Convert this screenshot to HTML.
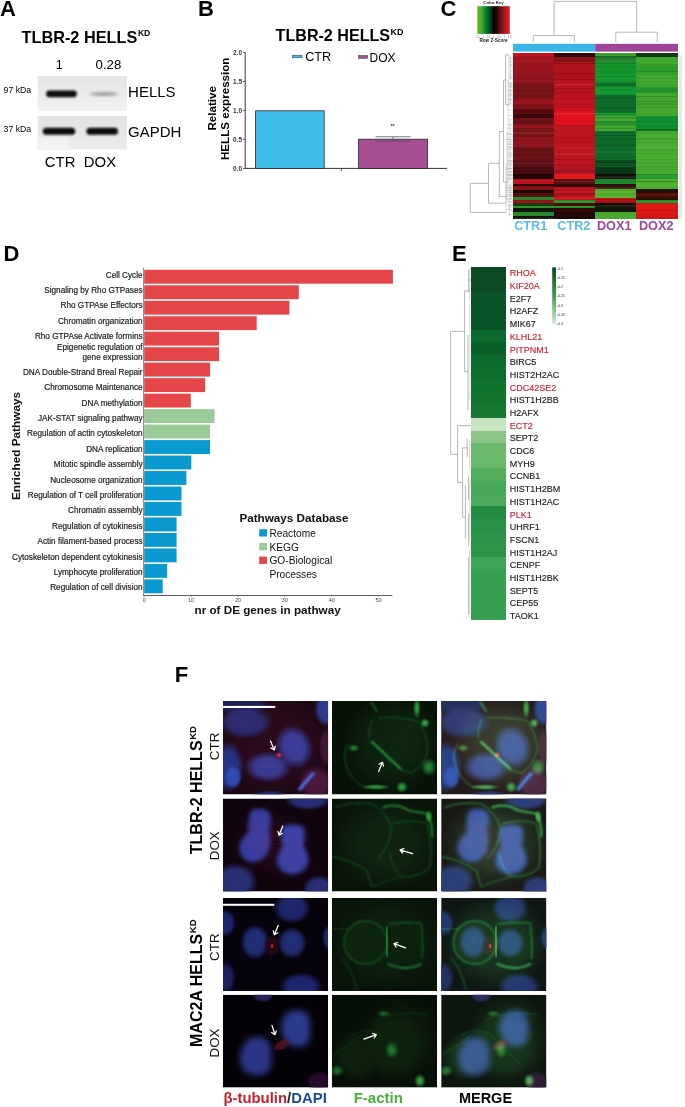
<!DOCTYPE html>
<html><head><meta charset="utf-8"><style>
html,body{margin:0;padding:0;background:#fff;}
body{width:685px;height:1107px;overflow:hidden;}
svg text{font-family:"Liberation Sans", sans-serif;}
</style></head><body>
<svg width="685" height="1107" viewBox="0 0 685 1107" style="display:block">
<defs><linearGradient id="blot1" x1="0" y1="0" x2="0" y2="1"><stop offset="0" stop-color="#e4e4e4"/><stop offset="0.6" stop-color="#ececec"/><stop offset="1" stop-color="#f2f2f2"/></linearGradient>
<linearGradient id="blot2" x1="0" y1="0" x2="0" y2="1"><stop offset="0" stop-color="#e2e2e2"/><stop offset="1" stop-color="#ececec"/></linearGradient>
<filter id="bl1" x="-20%" y="-50%" width="140%" height="200%"><feGaussianBlur stdDeviation="0.9"/></filter>
<filter id="bl2" x="-20%" y="-50%" width="140%" height="200%"><feGaussianBlur stdDeviation="1.4"/></filter><linearGradient id="ckey" x1="0" y1="0" x2="1" y2="0">
<stop offset="0" stop-color="#6ab32a"/><stop offset="0.14" stop-color="#4aa82c"/><stop offset="0.2" stop-color="#0d9a32"/>
<stop offset="0.3" stop-color="#0b6a28"/><stop offset="0.42" stop-color="#083a18"/><stop offset="0.5" stop-color="#000"/>
<stop offset="0.6" stop-color="#2a0606"/><stop offset="0.72" stop-color="#6a1216"/><stop offset="0.85" stop-color="#b0141e"/>
<stop offset="1" stop-color="#e82222"/></linearGradient><linearGradient id="escale" x1="0" y1="0" x2="0" y2="1"><stop offset="0" stop-color="#0a4a20"/><stop offset="0.5" stop-color="#3a9a4a"/><stop offset="1" stop-color="#d4ecd0"/></linearGradient><filter id="b05" x="-50%" y="-50%" width="200%" height="200%"><feGaussianBlur stdDeviation="0.5"/></filter>
<filter id="b1" x="-50%" y="-50%" width="200%" height="200%"><feGaussianBlur stdDeviation="1"/></filter>
<filter id="b2" x="-50%" y="-50%" width="200%" height="200%"><feGaussianBlur stdDeviation="2"/></filter>
<filter id="b3" x="-50%" y="-50%" width="200%" height="200%"><feGaussianBlur stdDeviation="3"/></filter>
<pattern id="rdots" width="4" height="4" patternUnits="userSpaceOnUse"><circle cx="1" cy="1" r="0.6" fill="#d03050"/><circle cx="3" cy="2.6" r="0.5" fill="#c02848"/></pattern><radialGradient id="rg1"><stop offset="0" stop-color="#2a0a1c" stop-opacity="1"/><stop offset="0.6" stop-color="#2a0a1c" stop-opacity="0.920"/><stop offset="1" stop-color="#2a0a1c" stop-opacity="0"/></radialGradient><radialGradient id="rg2"><stop offset="0" stop-color="#1e2058" stop-opacity="1.0"/><stop offset="0.62" stop-color="#1e2058" stop-opacity="0.920"/><stop offset="1" stop-color="#1e2058" stop-opacity="0"/></radialGradient><radialGradient id="rg3"><stop offset="0" stop-color="#2a2e74" stop-opacity="1.0"/><stop offset="0.62" stop-color="#2a2e74" stop-opacity="0.920"/><stop offset="1" stop-color="#2a2e74" stop-opacity="0"/></radialGradient><radialGradient id="rg4"><stop offset="0" stop-color="#2e3c98" stop-opacity="1.0"/><stop offset="0.62" stop-color="#2e3c98" stop-opacity="0.920"/><stop offset="1" stop-color="#2e3c98" stop-opacity="0"/></radialGradient><radialGradient id="rg5"><stop offset="0" stop-color="#3440a0" stop-opacity="1"/><stop offset="0.55" stop-color="#3440a0" stop-opacity="0.920"/><stop offset="1" stop-color="#3440a0" stop-opacity="0"/></radialGradient><radialGradient id="rg6"><stop offset="0" stop-color="#343e9a" stop-opacity="1"/><stop offset="0.55" stop-color="#343e9a" stop-opacity="0.920"/><stop offset="1" stop-color="#343e9a" stop-opacity="0"/></radialGradient><radialGradient id="rg7"><stop offset="0" stop-color="#26348a" stop-opacity="1.0"/><stop offset="0.62" stop-color="#26348a" stop-opacity="0.920"/><stop offset="1" stop-color="#26348a" stop-opacity="0"/></radialGradient><radialGradient id="rg8"><stop offset="0" stop-color="#2e4cb0" stop-opacity="1.0"/><stop offset="0.62" stop-color="#2e4cb0" stop-opacity="0.920"/><stop offset="1" stop-color="#2e4cb0" stop-opacity="0"/></radialGradient><radialGradient id="rg9"><stop offset="0" stop-color="#28328a" stop-opacity="1.0"/><stop offset="0.62" stop-color="#28328a" stop-opacity="0.920"/><stop offset="1" stop-color="#28328a" stop-opacity="0"/></radialGradient><radialGradient id="rg10"><stop offset="0" stop-color="#4a1a40" stop-opacity="1.0"/><stop offset="0.62" stop-color="#4a1a40" stop-opacity="0.920"/><stop offset="1" stop-color="#4a1a40" stop-opacity="0"/></radialGradient><radialGradient id="rg11"><stop offset="0" stop-color="#421636" stop-opacity="1.0"/><stop offset="0.62" stop-color="#421636" stop-opacity="0.920"/><stop offset="1" stop-color="#421636" stop-opacity="0"/></radialGradient><radialGradient id="rg12"><stop offset="0" stop-color="#e02848" stop-opacity="1"/><stop offset="0.3" stop-color="#e02848" stop-opacity="0.920"/><stop offset="1" stop-color="#e02848" stop-opacity="0"/></radialGradient><radialGradient id="rg13"><stop offset="0" stop-color="#0c220e" stop-opacity="1"/><stop offset="0.5" stop-color="#0c220e" stop-opacity="0.920"/><stop offset="1" stop-color="#0c220e" stop-opacity="0"/></radialGradient><radialGradient id="rg14"><stop offset="0" stop-color="#0f2812" stop-opacity="0.8"/><stop offset="0.3" stop-color="#0f2812" stop-opacity="0.736"/><stop offset="1" stop-color="#0f2812" stop-opacity="0"/></radialGradient><radialGradient id="rg15"><stop offset="0" stop-color="#2a9a38" stop-opacity="1.0"/><stop offset="0.3" stop-color="#2a9a38" stop-opacity="0.920"/><stop offset="1" stop-color="#2a9a38" stop-opacity="0"/></radialGradient><radialGradient id="rg16"><stop offset="0" stop-color="#34a444" stop-opacity="1.0"/><stop offset="0.3" stop-color="#34a444" stop-opacity="0.920"/><stop offset="1" stop-color="#34a444" stop-opacity="0"/></radialGradient><radialGradient id="rg17"><stop offset="0" stop-color="#2a9a38" stop-opacity="1.0"/><stop offset="0.3" stop-color="#2a9a38" stop-opacity="0.920"/><stop offset="1" stop-color="#2a9a38" stop-opacity="0"/></radialGradient><radialGradient id="rg18"><stop offset="0" stop-color="#20802e" stop-opacity="1.0"/><stop offset="0.3" stop-color="#20802e" stop-opacity="0.920"/><stop offset="1" stop-color="#20802e" stop-opacity="0"/></radialGradient><radialGradient id="rg19"><stop offset="0" stop-color="#1e7a2c" stop-opacity="1.0"/><stop offset="0.3" stop-color="#1e7a2c" stop-opacity="0.920"/><stop offset="1" stop-color="#1e7a2c" stop-opacity="0"/></radialGradient><radialGradient id="rg20"><stop offset="0" stop-color="#28903a" stop-opacity="1.0"/><stop offset="0.3" stop-color="#28903a" stop-opacity="0.920"/><stop offset="1" stop-color="#28903a" stop-opacity="0"/></radialGradient><radialGradient id="rg21"><stop offset="0" stop-color="#1c0616" stop-opacity="1"/><stop offset="0.6" stop-color="#1c0616" stop-opacity="0.920"/><stop offset="1" stop-color="#1c0616" stop-opacity="0"/></radialGradient><radialGradient id="rg22"><stop offset="0" stop-color="#283078" stop-opacity="1.0"/><stop offset="0.62" stop-color="#283078" stop-opacity="0.920"/><stop offset="1" stop-color="#283078" stop-opacity="0"/></radialGradient><radialGradient id="rg23"><stop offset="0" stop-color="#283078" stop-opacity="1.0"/><stop offset="0.62" stop-color="#283078" stop-opacity="0.920"/><stop offset="1" stop-color="#283078" stop-opacity="0"/></radialGradient><radialGradient id="rg24"><stop offset="0" stop-color="#283078" stop-opacity="1.0"/><stop offset="0.62" stop-color="#283078" stop-opacity="0.920"/><stop offset="1" stop-color="#283078" stop-opacity="0"/></radialGradient><radialGradient id="rg25"><stop offset="0" stop-color="#0e2410" stop-opacity="1"/><stop offset="0.5" stop-color="#0e2410" stop-opacity="0.920"/><stop offset="1" stop-color="#0e2410" stop-opacity="0"/></radialGradient><radialGradient id="rg26"><stop offset="0" stop-color="#2a9a38" stop-opacity="1.0"/><stop offset="0.3" stop-color="#2a9a38" stop-opacity="0.920"/><stop offset="1" stop-color="#2a9a38" stop-opacity="0"/></radialGradient><radialGradient id="rg27"><stop offset="0" stop-color="#1e2870" stop-opacity="1.0"/><stop offset="0.62" stop-color="#1e2870" stop-opacity="0.920"/><stop offset="1" stop-color="#1e2870" stop-opacity="0"/></radialGradient><radialGradient id="rg28"><stop offset="0" stop-color="#22307a" stop-opacity="1.0"/><stop offset="0.62" stop-color="#22307a" stop-opacity="0.920"/><stop offset="1" stop-color="#22307a" stop-opacity="0"/></radialGradient><radialGradient id="rg29"><stop offset="0" stop-color="#22307a" stop-opacity="1.0"/><stop offset="0.62" stop-color="#22307a" stop-opacity="0.920"/><stop offset="1" stop-color="#22307a" stop-opacity="0"/></radialGradient><radialGradient id="rg30"><stop offset="0" stop-color="#1e2870" stop-opacity="1.0"/><stop offset="0.62" stop-color="#1e2870" stop-opacity="0.920"/><stop offset="1" stop-color="#1e2870" stop-opacity="0"/></radialGradient><radialGradient id="rg31"><stop offset="0" stop-color="#1e2870" stop-opacity="1.0"/><stop offset="0.62" stop-color="#1e2870" stop-opacity="0.920"/><stop offset="1" stop-color="#1e2870" stop-opacity="0"/></radialGradient><radialGradient id="rg32"><stop offset="0" stop-color="#1e2060" stop-opacity="1.0"/><stop offset="0.62" stop-color="#1e2060" stop-opacity="0.920"/><stop offset="1" stop-color="#1e2060" stop-opacity="0"/></radialGradient><radialGradient id="rg33"><stop offset="0" stop-color="#1e2870" stop-opacity="1.0"/><stop offset="0.62" stop-color="#1e2870" stop-opacity="0.920"/><stop offset="1" stop-color="#1e2870" stop-opacity="0"/></radialGradient><radialGradient id="rg34"><stop offset="0" stop-color="#220818" stop-opacity="1.0"/><stop offset="0.62" stop-color="#220818" stop-opacity="0.920"/><stop offset="1" stop-color="#220818" stop-opacity="0"/></radialGradient><radialGradient id="rg35"><stop offset="0" stop-color="#e02030" stop-opacity="1"/><stop offset="0.3" stop-color="#e02030" stop-opacity="0.920"/><stop offset="1" stop-color="#e02030" stop-opacity="0"/></radialGradient><radialGradient id="rg36"><stop offset="0" stop-color="#0c200e" stop-opacity="1"/><stop offset="0.5" stop-color="#0c200e" stop-opacity="0.920"/><stop offset="1" stop-color="#0c200e" stop-opacity="0"/></radialGradient><radialGradient id="rg37"><stop offset="0" stop-color="#0d250d" stop-opacity="1"/><stop offset="0.8" stop-color="#0d250d" stop-opacity="0.920"/><stop offset="1" stop-color="#0d250d" stop-opacity="0"/></radialGradient><radialGradient id="rg38"><stop offset="0" stop-color="#0c220c" stop-opacity="1"/><stop offset="0.75" stop-color="#0c220c" stop-opacity="0.920"/><stop offset="1" stop-color="#0c220c" stop-opacity="0"/></radialGradient><radialGradient id="rg39"><stop offset="0" stop-color="#2a2060" stop-opacity="1.0"/><stop offset="0.62" stop-color="#2a2060" stop-opacity="0.920"/><stop offset="1" stop-color="#2a2060" stop-opacity="0"/></radialGradient><radialGradient id="rg40"><stop offset="0" stop-color="#5a1428" stop-opacity="0.75"/><stop offset="0.62" stop-color="#5a1428" stop-opacity="0.690"/><stop offset="1" stop-color="#5a1428" stop-opacity="0"/></radialGradient><radialGradient id="rg41"><stop offset="0" stop-color="#2a0a30" stop-opacity="1.0"/><stop offset="0.62" stop-color="#2a0a30" stop-opacity="0.920"/><stop offset="1" stop-color="#2a0a30" stop-opacity="0"/></radialGradient><radialGradient id="rg42"><stop offset="0" stop-color="#0b1a0b" stop-opacity="1"/><stop offset="0.5" stop-color="#0b1a0b" stop-opacity="0.920"/><stop offset="1" stop-color="#0b1a0b" stop-opacity="0"/></radialGradient><radialGradient id="rg43"><stop offset="0" stop-color="#0d220d" stop-opacity="1"/><stop offset="0.6" stop-color="#0d220d" stop-opacity="0.920"/><stop offset="1" stop-color="#0d220d" stop-opacity="0"/></radialGradient><radialGradient id="rg44"><stop offset="0" stop-color="#0d200d" stop-opacity="1"/><stop offset="0.6" stop-color="#0d200d" stop-opacity="0.920"/><stop offset="1" stop-color="#0d200d" stop-opacity="0"/></radialGradient><radialGradient id="rg45"><stop offset="0" stop-color="#1a5e24" stop-opacity="1.0"/><stop offset="0.3" stop-color="#1a5e24" stop-opacity="0.920"/><stop offset="1" stop-color="#1a5e24" stop-opacity="0"/></radialGradient><radialGradient id="rg46"><stop offset="0" stop-color="#227a30" stop-opacity="1.0"/><stop offset="0.3" stop-color="#227a30" stop-opacity="0.920"/><stop offset="1" stop-color="#227a30" stop-opacity="0"/></radialGradient><radialGradient id="rg47"><stop offset="0" stop-color="#36a03a" stop-opacity="1.0"/><stop offset="0.3" stop-color="#36a03a" stop-opacity="0.920"/><stop offset="1" stop-color="#36a03a" stop-opacity="0"/></radialGradient><radialGradient id="rg48"><stop offset="0" stop-color="#1a6a28" stop-opacity="1.0"/><stop offset="0.3" stop-color="#1a6a28" stop-opacity="0.920"/><stop offset="1" stop-color="#1a6a28" stop-opacity="0"/></radialGradient></defs>
<rect width="685" height="1107" fill="#fff"/>
<text x="0.0" y="15.8" font-size="22" font-weight="bold" fill="#000" text-anchor="start">A</text>
<text x="197.9" y="15.7" font-size="22" font-weight="bold" fill="#000" text-anchor="start">B</text>
<text x="440.6" y="15.6" font-size="22" font-weight="bold" fill="#000" text-anchor="start">C</text>
<text x="3.4" y="260.8" font-size="22" font-weight="bold" fill="#000" text-anchor="start">D</text>
<text x="452.0" y="260.8" font-size="22" font-weight="bold" fill="#000" text-anchor="start">E</text>
<text x="174.7" y="682.2" font-size="22" font-weight="bold" fill="#000" text-anchor="start">F</text>
<text x="21.5" y="42.6" font-size="16.3" font-weight="bold">TLBR-2 HELLS<tspan font-size="8.6" dy="-6.2" dx="0.6">KD</tspan></text>
<text x="55.8" y="68.6" font-size="12.5" fill="#000" text-anchor="start">1</text>
<text x="95.6" y="68.6" font-size="13.2" fill="#000" text-anchor="start">0.28</text>
<rect x="37.70" y="76.20" width="89.30" height="34.80" fill="url(#blot1)"/>
<rect x="37.70" y="115.90" width="89.30" height="33.50" fill="url(#blot2)"/>
<rect x="46.2" y="90.6" width="30.6" height="6.6" rx="3.3" fill="#0a0a0a" filter="url(#bl1)"/>
<ellipse cx="103.8" cy="93.9" rx="14" ry="1.8" fill="#9a9a9a" filter="url(#bl2)"/>
<rect x="42.8" y="127.8" width="32.4" height="7.0" rx="3.5" fill="#0a0a0a" filter="url(#bl1)"/>
<rect x="86.4" y="127.8" width="31.6" height="7.0" rx="3.5" fill="#0a0a0a" filter="url(#bl1)"/>
<path d="M38 138 H68 L72 149.4 H38 Z" fill="#f3f3f3" filter="url(#bl1)"/>
<text x="3.6" y="93.4" font-size="8.7" fill="#000" text-anchor="start">97 kDa</text>
<text x="3.6" y="132.4" font-size="8.7" fill="#000" text-anchor="start">37 kDa</text>
<text x="128.1" y="97.3" font-size="15" fill="#000" text-anchor="start">HELLS</text>
<text x="128.1" y="137.0" font-size="15" fill="#000" text-anchor="start">GAPDH</text>
<text x="44.8" y="167.3" font-size="14.9" fill="#000" text-anchor="start">CTR</text>
<text x="83.8" y="167.3" font-size="14.9" fill="#000" text-anchor="start">DOX</text>
<text x="275.6" y="40.8" font-size="16.1" font-weight="bold">TLBR-2 HELLS<tspan font-size="9" dy="-5.6" dx="0.4">KD</tspan></text>
<rect x="292.40" y="55.20" width="9.60" height="2.60" fill="#3dbde8" stroke="#333" stroke-width="0.5"/>
<text x="305.2" y="61.3" font-size="12.6" fill="#000" text-anchor="start">CTR</text>
<rect x="358.60" y="55.50" width="9.00" height="2.80" fill="#a54e93" stroke="#333" stroke-width="0.5"/>
<text x="369.6" y="61.5" font-size="12" fill="#000" text-anchor="start">DOX</text>
<line x1="245.2" y1="52.4" x2="245.2" y2="168.8" stroke="#222" stroke-width="0.9"/>
<line x1="245.2" y1="168.4" x2="447" y2="168.4" stroke="#222" stroke-width="0.9"/>
<line x1="243.0" y1="168.4" x2="245.2" y2="168.4" stroke="#222" stroke-width="0.7"/>
<text x="242.0" y="170.6" font-size="6.4" font-weight="bold" fill="#333" text-anchor="end">0.0</text>
<line x1="243.0" y1="139.4" x2="245.2" y2="139.4" stroke="#222" stroke-width="0.7"/>
<text x="242.0" y="141.6" font-size="6.4" font-weight="bold" fill="#333" text-anchor="end">0.5</text>
<line x1="243.0" y1="110.4" x2="245.2" y2="110.4" stroke="#222" stroke-width="0.7"/>
<text x="242.0" y="112.60000000000001" font-size="6.4" font-weight="bold" fill="#333" text-anchor="end">1.0</text>
<line x1="243.0" y1="81.4" x2="245.2" y2="81.4" stroke="#222" stroke-width="0.7"/>
<text x="242.0" y="83.60000000000001" font-size="6.4" font-weight="bold" fill="#333" text-anchor="end">1.5</text>
<line x1="243.0" y1="52.400000000000006" x2="245.2" y2="52.400000000000006" stroke="#222" stroke-width="0.7"/>
<text x="242.0" y="54.60000000000001" font-size="6.4" font-weight="bold" fill="#333" text-anchor="end">2.0</text>
<line x1="341.4" y1="168.4" x2="341.4" y2="170.8" stroke="#222" stroke-width="0.8"/>
<rect x="255.60" y="110.80" width="68.60" height="57.60" fill="#3dbde8" stroke="#2a2a2a" stroke-width="0.8"/>
<rect x="358.60" y="139.20" width="69.00" height="29.20" fill="#a54e93" stroke="#2a2a2a" stroke-width="0.8"/>
<line x1="375.6" y1="136.8" x2="410.6" y2="136.8" stroke="#555" stroke-width="0.8"/>
<line x1="375.6" y1="141.2" x2="410.6" y2="141.2" stroke="#555" stroke-width="0.8"/>
<line x1="393" y1="136.8" x2="393" y2="141.2" stroke="#555" stroke-width="0.8"/>
<text x="392.6" y="128.4" font-size="5.5" font-weight="bold" fill="#333" text-anchor="middle">**</text>
<text x="216.0" y="108.3" font-size="11.6" font-weight="bold" fill="#000" text-anchor="middle" transform="rotate(-90 216.0 108.3)">Relative</text>
<text x="229.4" y="108.8" font-size="11.6" font-weight="bold" fill="#000" text-anchor="middle" transform="rotate(-90 229.4 108.8)">HELLS expression</text>
<rect x="477.30" y="6.20" width="32.50" height="27.70" fill="url(#ckey)"/>
<text x="493.5" y="4.2" font-size="4.3" font-weight="bold" fill="#222" text-anchor="middle">Color Key</text>
<text x="493.5" y="42.4" font-size="4.6" font-weight="bold" fill="#222" text-anchor="middle">Row Z-Score</text>
<line x1="477.6" y1="33.9" x2="477.6" y2="34.8" stroke="#888" stroke-width="0.3"/>
<text x="477.6" y="38.3" font-size="2.6" fill="#777" text-anchor="middle">-1.5</text>
<line x1="482.93333333333334" y1="33.9" x2="482.93333333333334" y2="34.8" stroke="#888" stroke-width="0.3"/>
<text x="482.93333333333334" y="38.3" font-size="2.6" fill="#777" text-anchor="middle">-1</text>
<line x1="488.2666666666667" y1="33.9" x2="488.2666666666667" y2="34.8" stroke="#888" stroke-width="0.3"/>
<text x="488.2666666666667" y="38.3" font-size="2.6" fill="#777" text-anchor="middle">-0.5</text>
<line x1="493.6" y1="33.9" x2="493.6" y2="34.8" stroke="#888" stroke-width="0.3"/>
<text x="493.6" y="38.3" font-size="2.6" fill="#777" text-anchor="middle">0</text>
<line x1="498.93333333333334" y1="33.9" x2="498.93333333333334" y2="34.8" stroke="#888" stroke-width="0.3"/>
<text x="498.93333333333334" y="38.3" font-size="2.6" fill="#777" text-anchor="middle">0.5</text>
<line x1="504.2666666666667" y1="33.9" x2="504.2666666666667" y2="34.8" stroke="#888" stroke-width="0.3"/>
<text x="504.2666666666667" y="38.3" font-size="2.6" fill="#777" text-anchor="middle">1</text>
<line x1="509.6" y1="33.9" x2="509.6" y2="34.8" stroke="#888" stroke-width="0.3"/>
<text x="509.6" y="38.3" font-size="2.6" fill="#777" text-anchor="middle">1.5</text>
<path d="M554.1 35.5 V1.4 H636.6 V32.2 M533.3 42 V35.5 H574.4 V42 M615.8 42 V32.2 H657.3 V42" stroke="#9a9a9a" stroke-width="0.7" fill="none"/>
<rect x="513.00" y="43.80" width="82.20" height="7.80" fill="#3bb5e6"/>
<rect x="595.20" y="43.80" width="82.80" height="7.80" fill="#a0439a"/>
<rect x="512.80" y="53.00" width="41.70" height="3.30" fill="#c0141e" shape-rendering="crispEdges"/>
<rect x="512.80" y="56.00" width="41.70" height="6.30" fill="#a41520" shape-rendering="crispEdges"/>
<rect x="512.80" y="62.00" width="41.70" height="12.30" fill="#9a1520" shape-rendering="crispEdges"/>
<rect x="512.80" y="74.00" width="41.70" height="9.30" fill="#921420" shape-rendering="crispEdges"/>
<rect x="512.80" y="83.00" width="41.70" height="4.30" fill="#7a1418" shape-rendering="crispEdges"/>
<rect x="512.80" y="87.00" width="41.70" height="12.30" fill="#761418" shape-rendering="crispEdges"/>
<rect x="512.80" y="99.00" width="41.70" height="6.30" fill="#9a1520" shape-rendering="crispEdges"/>
<rect x="512.80" y="105.00" width="41.70" height="4.30" fill="#801418" shape-rendering="crispEdges"/>
<rect x="512.80" y="109.00" width="41.70" height="5.30" fill="#5a0e12" shape-rendering="crispEdges"/>
<rect x="512.80" y="114.00" width="41.70" height="4.30" fill="#3a0a0c" shape-rendering="crispEdges"/>
<rect x="512.80" y="118.00" width="41.70" height="7.30" fill="#6a1216" shape-rendering="crispEdges"/>
<rect x="512.80" y="125.00" width="41.70" height="3.30" fill="#9a1420" shape-rendering="crispEdges"/>
<rect x="512.80" y="128.00" width="41.70" height="9.30" fill="#7a1418" shape-rendering="crispEdges"/>
<rect x="512.80" y="137.00" width="41.70" height="10.30" fill="#901520" shape-rendering="crispEdges"/>
<rect x="512.80" y="147.00" width="41.70" height="15.30" fill="#6a1216" shape-rendering="crispEdges"/>
<rect x="512.80" y="162.00" width="41.70" height="5.30" fill="#5a1014" shape-rendering="crispEdges"/>
<rect x="512.80" y="167.00" width="41.70" height="7.30" fill="#4a0c10" shape-rendering="crispEdges"/>
<rect x="512.80" y="174.00" width="41.70" height="5.30" fill="#200808" shape-rendering="crispEdges"/>
<rect x="512.80" y="179.00" width="41.70" height="5.30" fill="#c01420" shape-rendering="crispEdges"/>
<rect x="512.80" y="184.00" width="41.70" height="2.30" fill="#300808" shape-rendering="crispEdges"/>
<rect x="512.80" y="186.00" width="41.70" height="4.30" fill="#8a1418" shape-rendering="crispEdges"/>
<rect x="512.80" y="190.00" width="41.70" height="3.30" fill="#200808" shape-rendering="crispEdges"/>
<rect x="512.80" y="193.00" width="41.70" height="4.30" fill="#5a1010" shape-rendering="crispEdges"/>
<rect x="512.80" y="197.00" width="41.70" height="3.30" fill="#2a8a30" shape-rendering="crispEdges"/>
<rect x="512.80" y="200.00" width="41.70" height="3.30" fill="#a01418" shape-rendering="crispEdges"/>
<rect x="512.80" y="203.00" width="41.70" height="3.30" fill="#1a3a18" shape-rendering="crispEdges"/>
<rect x="512.80" y="206.00" width="41.70" height="2.30" fill="#30a030" shape-rendering="crispEdges"/>
<rect x="512.80" y="208.00" width="41.70" height="4.30" fill="#101808" shape-rendering="crispEdges"/>
<rect x="512.80" y="212.00" width="41.70" height="4.30" fill="#2a8a30" shape-rendering="crispEdges"/>
<rect x="512.80" y="216.00" width="41.70" height="3.30" fill="#101008" shape-rendering="crispEdges"/>
<rect x="554.20" y="53.00" width="41.30" height="4.30" fill="#2e0808" shape-rendering="crispEdges"/>
<rect x="554.20" y="57.00" width="41.30" height="5.30" fill="#8a1418" shape-rendering="crispEdges"/>
<rect x="554.20" y="62.00" width="41.30" height="12.30" fill="#b0141e" shape-rendering="crispEdges"/>
<rect x="554.20" y="74.00" width="41.30" height="20.30" fill="#b8121e" shape-rendering="crispEdges"/>
<rect x="554.20" y="94.00" width="41.30" height="15.30" fill="#c0121e" shape-rendering="crispEdges"/>
<rect x="554.20" y="109.00" width="41.30" height="16.30" fill="#e0101e" shape-rendering="crispEdges"/>
<rect x="554.20" y="125.00" width="41.30" height="42.30" fill="#be141e" shape-rendering="crispEdges"/>
<rect x="554.20" y="167.00" width="41.30" height="7.30" fill="#b01420" shape-rendering="crispEdges"/>
<rect x="554.20" y="174.00" width="41.30" height="5.30" fill="#e81820" shape-rendering="crispEdges"/>
<rect x="554.20" y="179.00" width="41.30" height="5.30" fill="#5a1010" shape-rendering="crispEdges"/>
<rect x="554.20" y="184.00" width="41.30" height="3.30" fill="#300808" shape-rendering="crispEdges"/>
<rect x="554.20" y="187.00" width="41.30" height="6.30" fill="#c0141e" shape-rendering="crispEdges"/>
<rect x="554.20" y="193.00" width="41.30" height="4.30" fill="#b01420" shape-rendering="crispEdges"/>
<rect x="554.20" y="197.00" width="41.30" height="3.30" fill="#e01820" shape-rendering="crispEdges"/>
<rect x="554.20" y="200.00" width="41.30" height="3.30" fill="#2a9a30" shape-rendering="crispEdges"/>
<rect x="554.20" y="203.00" width="41.30" height="3.30" fill="#500808" shape-rendering="crispEdges"/>
<rect x="554.20" y="206.00" width="41.30" height="2.30" fill="#30a030" shape-rendering="crispEdges"/>
<rect x="554.20" y="208.00" width="41.30" height="4.30" fill="#300808" shape-rendering="crispEdges"/>
<rect x="554.20" y="212.00" width="41.30" height="7.30" fill="#200808" shape-rendering="crispEdges"/>
<rect x="595.20" y="53.00" width="41.50" height="3.30" fill="#40a030" shape-rendering="crispEdges"/>
<rect x="595.20" y="56.00" width="41.50" height="2.30" fill="#1a6a2a" shape-rendering="crispEdges"/>
<rect x="595.20" y="58.00" width="41.50" height="4.30" fill="#2a8a30" shape-rendering="crispEdges"/>
<rect x="595.20" y="62.00" width="41.50" height="12.30" fill="#13952c" shape-rendering="crispEdges"/>
<rect x="595.20" y="74.00" width="41.50" height="9.30" fill="#149a30" shape-rendering="crispEdges"/>
<rect x="595.20" y="83.00" width="41.50" height="3.30" fill="#0e6a28" shape-rendering="crispEdges"/>
<rect x="595.20" y="86.00" width="41.50" height="9.30" fill="#149a30" shape-rendering="crispEdges"/>
<rect x="595.20" y="95.00" width="41.50" height="18.30" fill="#0e6a2a" shape-rendering="crispEdges"/>
<rect x="595.20" y="113.00" width="41.50" height="3.30" fill="#18a030" shape-rendering="crispEdges"/>
<rect x="595.20" y="116.00" width="41.50" height="5.30" fill="#44a834" shape-rendering="crispEdges"/>
<rect x="595.20" y="121.00" width="41.50" height="4.30" fill="#2a9530" shape-rendering="crispEdges"/>
<rect x="595.20" y="125.00" width="41.50" height="6.30" fill="#40a830" shape-rendering="crispEdges"/>
<rect x="595.20" y="131.00" width="41.50" height="29.30" fill="#0e6a2a" shape-rendering="crispEdges"/>
<rect x="595.20" y="160.00" width="41.50" height="3.30" fill="#0a4a20" shape-rendering="crispEdges"/>
<rect x="595.20" y="163.00" width="41.50" height="4.30" fill="#0a5a24" shape-rendering="crispEdges"/>
<rect x="595.20" y="167.00" width="41.50" height="7.30" fill="#0a3a18" shape-rendering="crispEdges"/>
<rect x="595.20" y="174.00" width="41.50" height="5.30" fill="#101008" shape-rendering="crispEdges"/>
<rect x="595.20" y="179.00" width="41.50" height="5.30" fill="#1a8a30" shape-rendering="crispEdges"/>
<rect x="595.20" y="184.00" width="41.50" height="5.30" fill="#301008" shape-rendering="crispEdges"/>
<rect x="595.20" y="189.00" width="41.50" height="9.30" fill="#5ab030" shape-rendering="crispEdges"/>
<rect x="595.20" y="198.00" width="41.50" height="3.30" fill="#c01418" shape-rendering="crispEdges"/>
<rect x="595.20" y="201.00" width="41.50" height="2.30" fill="#a01418" shape-rendering="crispEdges"/>
<rect x="595.20" y="203.00" width="41.50" height="4.30" fill="#101008" shape-rendering="crispEdges"/>
<rect x="595.20" y="207.00" width="41.50" height="5.30" fill="#101808" shape-rendering="crispEdges"/>
<rect x="595.20" y="212.00" width="41.50" height="7.30" fill="#4aaa30" shape-rendering="crispEdges"/>
<rect x="636.40" y="53.00" width="41.70" height="4.30" fill="#103a18" shape-rendering="crispEdges"/>
<rect x="636.40" y="57.00" width="41.70" height="9.30" fill="#40a830" shape-rendering="crispEdges"/>
<rect x="636.40" y="66.00" width="41.70" height="8.30" fill="#2da02e" shape-rendering="crispEdges"/>
<rect x="636.40" y="74.00" width="41.70" height="13.30" fill="#42a830" shape-rendering="crispEdges"/>
<rect x="636.40" y="87.00" width="41.70" height="6.30" fill="#22952e" shape-rendering="crispEdges"/>
<rect x="636.40" y="93.00" width="41.70" height="23.30" fill="#44a830" shape-rendering="crispEdges"/>
<rect x="636.40" y="116.00" width="41.70" height="13.30" fill="#0f9030" shape-rendering="crispEdges"/>
<rect x="636.40" y="129.00" width="41.70" height="2.30" fill="#0f6a28" shape-rendering="crispEdges"/>
<rect x="636.40" y="131.00" width="41.70" height="43.30" fill="#48ac30" shape-rendering="crispEdges"/>
<rect x="636.40" y="174.00" width="41.70" height="5.30" fill="#2a9a30" shape-rendering="crispEdges"/>
<rect x="636.40" y="179.00" width="41.70" height="10.30" fill="#50b030" shape-rendering="crispEdges"/>
<rect x="636.40" y="189.00" width="41.70" height="4.30" fill="#201008" shape-rendering="crispEdges"/>
<rect x="636.40" y="193.00" width="41.70" height="3.30" fill="#6a1010" shape-rendering="crispEdges"/>
<rect x="636.40" y="196.00" width="41.70" height="4.30" fill="#301008" shape-rendering="crispEdges"/>
<rect x="636.40" y="200.00" width="41.70" height="3.30" fill="#2a9a30" shape-rendering="crispEdges"/>
<rect x="636.40" y="203.00" width="41.70" height="16.30" fill="#e01818" shape-rendering="crispEdges"/>
<rect x="512.8" y="57.5" width="41.4" height="0.8" fill="#000" opacity="0.12"/>
<rect x="512.8" y="63.7" width="41.4" height="0.6" fill="#000" opacity="0.12"/>
<rect x="512.8" y="68.4" width="41.4" height="0.6" fill="#000" opacity="0.07"/>
<rect x="512.8" y="72.0" width="41.4" height="1.2" fill="#000" opacity="0.07"/>
<rect x="512.8" y="78.8" width="41.4" height="0.6" fill="#000" opacity="0.15"/>
<rect x="512.8" y="85.7" width="41.4" height="0.6" fill="#000" opacity="0.15"/>
<rect x="512.8" y="90.1" width="41.4" height="0.6" fill="#000" opacity="0.15"/>
<rect x="512.8" y="95.6" width="41.4" height="0.6" fill="#000" opacity="0.15"/>
<rect x="512.8" y="99.8" width="41.4" height="0.6" fill="#000" opacity="0.15"/>
<rect x="512.8" y="104.5" width="41.4" height="1.2" fill="#000" opacity="0.18"/>
<rect x="512.8" y="111.2" width="41.4" height="1.0" fill="#000" opacity="0.11"/>
<rect x="512.8" y="116.8" width="41.4" height="0.8" fill="#000" opacity="0.07"/>
<rect x="512.8" y="121.6" width="41.4" height="1.0" fill="#000" opacity="0.18"/>
<rect x="512.8" y="128.5" width="41.4" height="0.6" fill="#000" opacity="0.14"/>
<rect x="512.8" y="132.5" width="41.4" height="1.2" fill="#fff" opacity="0.13"/>
<rect x="512.8" y="135.4" width="41.4" height="1.0" fill="#000" opacity="0.11"/>
<rect x="512.8" y="140.1" width="41.4" height="1.2" fill="#000" opacity="0.07"/>
<rect x="512.8" y="143.8" width="41.4" height="0.6" fill="#000" opacity="0.07"/>
<rect x="512.8" y="149.2" width="41.4" height="1.2" fill="#000" opacity="0.11"/>
<rect x="512.8" y="154.7" width="41.4" height="0.6" fill="#000" opacity="0.21"/>
<rect x="512.8" y="160.0" width="41.4" height="1.2" fill="#000" opacity="0.07"/>
<rect x="512.8" y="163.1" width="41.4" height="0.8" fill="#fff" opacity="0.12"/>
<rect x="512.8" y="167.8" width="41.4" height="0.8" fill="#000" opacity="0.13"/>
<rect x="512.8" y="174.3" width="41.4" height="1.2" fill="#000" opacity="0.20"/>
<rect x="512.8" y="178.6" width="41.4" height="1.0" fill="#000" opacity="0.17"/>
<rect x="512.8" y="182.2" width="41.4" height="0.6" fill="#000" opacity="0.09"/>
<rect x="512.8" y="185.7" width="41.4" height="1.2" fill="#000" opacity="0.19"/>
<rect x="512.8" y="189.5" width="41.4" height="0.8" fill="#000" opacity="0.13"/>
<rect x="512.8" y="194.6" width="41.4" height="0.8" fill="#000" opacity="0.17"/>
<rect x="512.8" y="199.8" width="41.4" height="0.6" fill="#000" opacity="0.13"/>
<rect x="512.8" y="206.6" width="41.4" height="1.2" fill="#000" opacity="0.12"/>
<rect x="512.8" y="211.3" width="41.4" height="1.2" fill="#000" opacity="0.07"/>
<rect x="512.8" y="214.7" width="41.4" height="0.8" fill="#000" opacity="0.08"/>
<rect x="512.8" y="217.7" width="41.4" height="0.8" fill="#fff" opacity="0.15"/>
<rect x="554.2" y="56.3" width="41.0" height="0.8" fill="#000" opacity="0.16"/>
<rect x="554.2" y="60.0" width="41.0" height="1.0" fill="#000" opacity="0.16"/>
<rect x="554.2" y="63.0" width="41.0" height="1.2" fill="#000" opacity="0.22"/>
<rect x="554.2" y="67.6" width="41.0" height="0.6" fill="#000" opacity="0.08"/>
<rect x="554.2" y="73.5" width="41.0" height="1.2" fill="#000" opacity="0.19"/>
<rect x="554.2" y="76.1" width="41.0" height="1.0" fill="#000" opacity="0.08"/>
<rect x="554.2" y="78.7" width="41.0" height="1.0" fill="#000" opacity="0.22"/>
<rect x="554.2" y="84.3" width="41.0" height="1.0" fill="#fff" opacity="0.14"/>
<rect x="554.2" y="88.4" width="41.0" height="0.8" fill="#000" opacity="0.15"/>
<rect x="554.2" y="92.4" width="41.0" height="0.8" fill="#000" opacity="0.16"/>
<rect x="554.2" y="98.3" width="41.0" height="0.8" fill="#000" opacity="0.19"/>
<rect x="554.2" y="104.2" width="41.0" height="0.8" fill="#000" opacity="0.09"/>
<rect x="554.2" y="110.0" width="41.0" height="0.6" fill="#000" opacity="0.19"/>
<rect x="554.2" y="113.3" width="41.0" height="1.0" fill="#fff" opacity="0.13"/>
<rect x="554.2" y="120.3" width="41.0" height="1.0" fill="#000" opacity="0.07"/>
<rect x="554.2" y="124.9" width="41.0" height="1.0" fill="#000" opacity="0.09"/>
<rect x="554.2" y="131.4" width="41.0" height="0.6" fill="#000" opacity="0.14"/>
<rect x="554.2" y="137.5" width="41.0" height="0.6" fill="#000" opacity="0.19"/>
<rect x="554.2" y="141.8" width="41.0" height="0.8" fill="#000" opacity="0.14"/>
<rect x="554.2" y="147.8" width="41.0" height="1.0" fill="#fff" opacity="0.07"/>
<rect x="554.2" y="153.6" width="41.0" height="1.2" fill="#fff" opacity="0.12"/>
<rect x="554.2" y="159.3" width="41.0" height="0.8" fill="#000" opacity="0.22"/>
<rect x="554.2" y="164.5" width="41.0" height="1.2" fill="#000" opacity="0.19"/>
<rect x="554.2" y="170.7" width="41.0" height="1.2" fill="#000" opacity="0.17"/>
<rect x="554.2" y="175.7" width="41.0" height="0.8" fill="#000" opacity="0.06"/>
<rect x="554.2" y="181.5" width="41.0" height="0.6" fill="#fff" opacity="0.14"/>
<rect x="554.2" y="185.9" width="41.0" height="0.8" fill="#000" opacity="0.19"/>
<rect x="554.2" y="189.5" width="41.0" height="1.0" fill="#000" opacity="0.14"/>
<rect x="554.2" y="193.5" width="41.0" height="1.2" fill="#000" opacity="0.19"/>
<rect x="554.2" y="199.3" width="41.0" height="1.2" fill="#000" opacity="0.17"/>
<rect x="554.2" y="204.2" width="41.0" height="0.8" fill="#000" opacity="0.15"/>
<rect x="554.2" y="206.8" width="41.0" height="1.2" fill="#000" opacity="0.18"/>
<rect x="554.2" y="212.7" width="41.0" height="0.8" fill="#000" opacity="0.09"/>
<rect x="595.2" y="58.5" width="41.2" height="1.0" fill="#000" opacity="0.17"/>
<rect x="595.2" y="63.2" width="41.2" height="0.6" fill="#000" opacity="0.20"/>
<rect x="595.2" y="66.5" width="41.2" height="0.6" fill="#000" opacity="0.18"/>
<rect x="595.2" y="71.6" width="41.2" height="0.6" fill="#000" opacity="0.13"/>
<rect x="595.2" y="76.3" width="41.2" height="0.8" fill="#000" opacity="0.17"/>
<rect x="595.2" y="81.2" width="41.2" height="1.2" fill="#000" opacity="0.14"/>
<rect x="595.2" y="86.1" width="41.2" height="1.0" fill="#000" opacity="0.21"/>
<rect x="595.2" y="89.5" width="41.2" height="1.2" fill="#000" opacity="0.08"/>
<rect x="595.2" y="94.0" width="41.2" height="0.6" fill="#000" opacity="0.17"/>
<rect x="595.2" y="97.5" width="41.2" height="1.0" fill="#000" opacity="0.19"/>
<rect x="595.2" y="100.6" width="41.2" height="1.0" fill="#000" opacity="0.08"/>
<rect x="595.2" y="107.5" width="41.2" height="0.8" fill="#000" opacity="0.18"/>
<rect x="595.2" y="114.0" width="41.2" height="0.8" fill="#000" opacity="0.22"/>
<rect x="595.2" y="117.2" width="41.2" height="1.2" fill="#000" opacity="0.22"/>
<rect x="595.2" y="121.6" width="41.2" height="1.0" fill="#000" opacity="0.11"/>
<rect x="595.2" y="124.2" width="41.2" height="1.2" fill="#000" opacity="0.13"/>
<rect x="595.2" y="128.2" width="41.2" height="1.0" fill="#000" opacity="0.14"/>
<rect x="595.2" y="135.1" width="41.2" height="0.8" fill="#000" opacity="0.22"/>
<rect x="595.2" y="138.8" width="41.2" height="0.6" fill="#000" opacity="0.20"/>
<rect x="595.2" y="144.7" width="41.2" height="1.2" fill="#000" opacity="0.20"/>
<rect x="595.2" y="151.5" width="41.2" height="1.2" fill="#fff" opacity="0.08"/>
<rect x="595.2" y="156.5" width="41.2" height="1.0" fill="#000" opacity="0.07"/>
<rect x="595.2" y="162.1" width="41.2" height="1.2" fill="#000" opacity="0.20"/>
<rect x="595.2" y="164.7" width="41.2" height="0.6" fill="#000" opacity="0.19"/>
<rect x="595.2" y="171.1" width="41.2" height="0.6" fill="#000" opacity="0.10"/>
<rect x="595.2" y="173.6" width="41.2" height="1.2" fill="#000" opacity="0.21"/>
<rect x="595.2" y="176.7" width="41.2" height="0.8" fill="#fff" opacity="0.21"/>
<rect x="595.2" y="180.4" width="41.2" height="0.8" fill="#000" opacity="0.09"/>
<rect x="595.2" y="184.2" width="41.2" height="0.8" fill="#000" opacity="0.11"/>
<rect x="595.2" y="187.5" width="41.2" height="1.0" fill="#fff" opacity="0.19"/>
<rect x="595.2" y="190.2" width="41.2" height="0.6" fill="#000" opacity="0.18"/>
<rect x="595.2" y="193.6" width="41.2" height="1.2" fill="#000" opacity="0.10"/>
<rect x="595.2" y="199.0" width="41.2" height="1.2" fill="#000" opacity="0.17"/>
<rect x="595.2" y="205.5" width="41.2" height="1.0" fill="#fff" opacity="0.17"/>
<rect x="595.2" y="209.6" width="41.2" height="0.8" fill="#000" opacity="0.12"/>
<rect x="595.2" y="212.3" width="41.2" height="0.8" fill="#000" opacity="0.06"/>
<rect x="636.4" y="57.9" width="41.4" height="0.6" fill="#000" opacity="0.07"/>
<rect x="636.4" y="64.4" width="41.4" height="1.0" fill="#000" opacity="0.16"/>
<rect x="636.4" y="67.1" width="41.4" height="0.8" fill="#000" opacity="0.09"/>
<rect x="636.4" y="70.7" width="41.4" height="1.0" fill="#000" opacity="0.22"/>
<rect x="636.4" y="74.3" width="41.4" height="1.0" fill="#000" opacity="0.09"/>
<rect x="636.4" y="78.4" width="41.4" height="0.6" fill="#000" opacity="0.14"/>
<rect x="636.4" y="81.8" width="41.4" height="0.6" fill="#000" opacity="0.07"/>
<rect x="636.4" y="84.9" width="41.4" height="0.6" fill="#000" opacity="0.12"/>
<rect x="636.4" y="90.2" width="41.4" height="0.6" fill="#000" opacity="0.15"/>
<rect x="636.4" y="96.1" width="41.4" height="1.2" fill="#000" opacity="0.18"/>
<rect x="636.4" y="100.8" width="41.4" height="1.0" fill="#000" opacity="0.18"/>
<rect x="636.4" y="103.5" width="41.4" height="1.2" fill="#000" opacity="0.18"/>
<rect x="636.4" y="106.7" width="41.4" height="0.6" fill="#000" opacity="0.19"/>
<rect x="636.4" y="113.2" width="41.4" height="0.8" fill="#000" opacity="0.07"/>
<rect x="636.4" y="118.5" width="41.4" height="0.6" fill="#000" opacity="0.12"/>
<rect x="636.4" y="121.3" width="41.4" height="0.6" fill="#000" opacity="0.16"/>
<rect x="636.4" y="126.0" width="41.4" height="0.6" fill="#000" opacity="0.13"/>
<rect x="636.4" y="132.7" width="41.4" height="0.6" fill="#000" opacity="0.17"/>
<rect x="636.4" y="138.5" width="41.4" height="1.0" fill="#000" opacity="0.19"/>
<rect x="636.4" y="142.0" width="41.4" height="0.8" fill="#000" opacity="0.10"/>
<rect x="636.4" y="146.6" width="41.4" height="1.2" fill="#fff" opacity="0.07"/>
<rect x="636.4" y="150.4" width="41.4" height="0.6" fill="#000" opacity="0.16"/>
<rect x="636.4" y="153.3" width="41.4" height="0.8" fill="#000" opacity="0.11"/>
<rect x="636.4" y="158.9" width="41.4" height="0.8" fill="#000" opacity="0.06"/>
<rect x="636.4" y="162.6" width="41.4" height="0.6" fill="#000" opacity="0.17"/>
<rect x="636.4" y="166.4" width="41.4" height="1.0" fill="#000" opacity="0.13"/>
<rect x="636.4" y="169.4" width="41.4" height="0.8" fill="#000" opacity="0.11"/>
<rect x="636.4" y="174.1" width="41.4" height="1.0" fill="#000" opacity="0.13"/>
<rect x="636.4" y="180.9" width="41.4" height="1.2" fill="#000" opacity="0.22"/>
<rect x="636.4" y="187.5" width="41.4" height="0.8" fill="#000" opacity="0.07"/>
<rect x="636.4" y="193.4" width="41.4" height="1.0" fill="#000" opacity="0.21"/>
<rect x="636.4" y="199.6" width="41.4" height="1.0" fill="#000" opacity="0.20"/>
<rect x="636.4" y="203.1" width="41.4" height="1.2" fill="#000" opacity="0.12"/>
<rect x="636.4" y="209.9" width="41.4" height="1.2" fill="#000" opacity="0.12"/>
<rect x="636.4" y="214.3" width="41.4" height="1.2" fill="#000" opacity="0.11"/>
<rect x="636.4" y="216.8" width="41.4" height="1.0" fill="#000" opacity="0.19"/>
<path d="M470.3 183.4 H488.5 M470.3 183.4 V212.5 H506 M488.5 163.3 V203.2 H506 M488.5 163.3 H499.3 M499.3 131.5 V196.4 H507 M499.3 131.5 H503.5 M503.5 80 V182.1 H508 M503.5 80 H505.6 M505.6 54.7 V104.6 H509 M505.6 54.7 H509" stroke="#9a9a9a" stroke-width="0.7" fill="none"/>
<path d="M509 54.7 V104.6 M509 57.7 H512.5 M509 61.8 H512.5 M509 65.3 H512.5 M509 69.7 H512.5 M509 74.2 H512.5 M509 76.5 H512.5 M509 78.5 H512.5 M509 83.9 H512.5 M509 86.9 H512.5 M509 89.9 H512.5 M509 95.8 H512.5 M509 99.7 H512.5 M510.5 56 V80 M510.5 59.9 H512.5 M510.5 64.5 H512.5 M510.5 67.1 H512.5 M510.5 71.6 H512.5 M510.5 77.1 H512.5 M510.5 82 V104 M510.5 87.0 H512.5 M510.5 91.7 H512.5 M510.5 93.9 H512.5 M510.5 98.9 H512.5 M510.5 103.3 H512.5 M508 80 V182.1 M508 83.2 H512.5 M508 85.3 H512.5 M508 90.8 H512.5 M508 94.7 H512.5 M508 99.6 H512.5 M508 105.1 H512.5 M508 109.9 H512.5 M508 115.6 H512.5 M508 119.2 H512.5 M508 124.4 H512.5 M508 128.2 H512.5 M508 133.9 H512.5 M508 139.4 H512.5 M508 141.8 H512.5 M508 144.4 H512.5 M508 147.2 H512.5 M508 153.1 H512.5 M508 156.8 H512.5 M508 161.3 H512.5 M508 164.6 H512.5 M508 168.6 H512.5 M508 172.1 H512.5 M508 175.5 H512.5 M508 179.9 H512.5 M510 120 V180 M510 125.6 H512.5 M510 130.3 H512.5 M510 136.1 H512.5 M510 141.5 H512.5 M510 147.5 H512.5 M510 152.1 H512.5 M510 154.8 H512.5 M510 160.2 H512.5 M510 166.1 H512.5 M510 171.7 H512.5 M510 176.0 H512.5 M507 131.5 V196.4 M507 134.3 H512.5 M507 139.7 H512.5 M507 144.0 H512.5 M507 147.1 H512.5 M507 149.4 H512.5 M507 154.8 H512.5 M507 160.7 H512.5 M507 163.1 H512.5 M507 168.3 H512.5 M507 171.9 H512.5 M507 174.5 H512.5 M507 177.7 H512.5 M507 182.8 H512.5 M507 188.3 H512.5 M507 190.5 H512.5 M507 194.9 H512.5 M510 185 V196 M510 187.2 H512.5 M510 192.1 H512.5 M510 195.4 H512.5 M506 163.3 V203.2 M506 168.8 H512.5 M506 174.7 H512.5 M506 178.8 H512.5 M506 184.8 H512.5 M506 188.0 H512.5 M506 190.3 H512.5 M506 194.7 H512.5 M506 196.8 H512.5 M506 199.6 H512.5 M509 198 V210 M509 202.4 H512.5 M509 205.1 H512.5 M509 207.2 H512.5 M506 183.4 V212.5 M506 186.7 H512.5 M506 192.5 H512.5 M506 198.1 H512.5 M506 201.6 H512.5 M506 205.4 H512.5 M506 209.5 H512.5 M509.5 206 V216 M509.5 210.4 H512.5 M509.5 214.6 H512.5 M510.5 188 V200 M510.5 192.5 H512.5 M510.5 198.2 H512.5" stroke="#b0b0b0" stroke-width="0.45" fill="none"/>
<rect x="679" y="55" width="3" height="163" fill="#e8e8e8"/>
<text x="514.2" y="230.2" font-size="12.7" font-weight="bold" fill="#5bbde6" text-anchor="start">CTR1</text>
<text x="557.3" y="230.2" font-size="12.7" font-weight="bold" fill="#5bbde6" text-anchor="start">CTR2</text>
<text x="596.9" y="230.2" font-size="12.7" font-weight="bold" fill="#a0489a" text-anchor="start">DOX1</text>
<text x="638.9" y="230.2" font-size="12.7" font-weight="bold" fill="#a0489a" text-anchor="start">DOX2</text>
<rect x="144.20" y="269.80" width="248.70" height="13.90" fill="#e5464a"/>
<text x="142.6" y="277.7" font-size="8.2" fill="#1a1a1a" text-anchor="end" stroke="#1a1a1a" stroke-width="0.18">Cell Cycle</text>
<line x1="142.6" y1="274.5" x2="143.8" y2="274.5" stroke="#666" stroke-width="0.5"/>
<rect x="144.20" y="285.28" width="154.60" height="13.90" fill="#e5464a"/>
<text x="142.6" y="293.03" font-size="8.2" fill="#1a1a1a" text-anchor="end" stroke="#1a1a1a" stroke-width="0.18">Signaling by Rho GTPases</text>
<line x1="142.6" y1="289.83" x2="143.8" y2="289.83" stroke="#666" stroke-width="0.5"/>
<rect x="144.20" y="300.76" width="145.20" height="13.90" fill="#e5464a"/>
<text x="142.6" y="308.36" font-size="8.2" fill="#1a1a1a" text-anchor="end" stroke="#1a1a1a" stroke-width="0.18">Rho GTPAse Effectors</text>
<line x1="142.6" y1="305.16" x2="143.8" y2="305.16" stroke="#666" stroke-width="0.5"/>
<rect x="144.20" y="316.24" width="112.50" height="13.90" fill="#e5464a"/>
<text x="142.6" y="323.69" font-size="8.2" fill="#1a1a1a" text-anchor="end" stroke="#1a1a1a" stroke-width="0.18">Chromatin organization</text>
<line x1="142.6" y1="320.49" x2="143.8" y2="320.49" stroke="#666" stroke-width="0.5"/>
<rect x="144.20" y="331.72" width="74.90" height="13.90" fill="#e5464a"/>
<text x="142.6" y="339.02" font-size="8.2" fill="#1a1a1a" text-anchor="end" stroke="#1a1a1a" stroke-width="0.18">Rho GTPAse Activate formins</text>
<line x1="142.6" y1="335.82" x2="143.8" y2="335.82" stroke="#666" stroke-width="0.5"/>
<rect x="144.20" y="347.20" width="74.90" height="13.90" fill="#e5464a"/>
<text x="142.6" y="349.9" font-size="8.2" fill="#1a1a1a" text-anchor="end" stroke="#1a1a1a" stroke-width="0.18">Epigenetic regulation of</text>
<text x="142.6" y="360.0" font-size="8.2" fill="#1a1a1a" text-anchor="end" stroke="#1a1a1a" stroke-width="0.18">gene expression</text>
<line x1="142.6" y1="356.8" x2="143.8" y2="356.8" stroke="#666" stroke-width="0.5"/>
<rect x="144.20" y="362.68" width="65.90" height="13.90" fill="#e5464a"/>
<text x="142.6" y="374.7" font-size="8.2" fill="#1a1a1a" text-anchor="end" stroke="#1a1a1a" stroke-width="0.18">DNA Double-Strand Breal Repair</text>
<line x1="142.6" y1="371.5" x2="143.8" y2="371.5" stroke="#666" stroke-width="0.5"/>
<rect x="144.20" y="378.16" width="61.00" height="13.90" fill="#e5464a"/>
<text x="142.6" y="390.11" font-size="8.2" fill="#1a1a1a" text-anchor="end" stroke="#1a1a1a" stroke-width="0.18">Chromosome Maintenance</text>
<line x1="142.6" y1="386.91" x2="143.8" y2="386.91" stroke="#666" stroke-width="0.5"/>
<rect x="144.20" y="393.64" width="46.60" height="13.90" fill="#e5464a"/>
<text x="142.6" y="405.52" font-size="8.2" fill="#1a1a1a" text-anchor="end" stroke="#1a1a1a" stroke-width="0.18">DNA methylation</text>
<line x1="142.6" y1="402.32" x2="143.8" y2="402.32" stroke="#666" stroke-width="0.5"/>
<rect x="144.20" y="409.12" width="70.40" height="13.90" fill="#9bcb98"/>
<text x="142.6" y="420.93" font-size="8.2" fill="#1a1a1a" text-anchor="end" stroke="#1a1a1a" stroke-width="0.18">JAK-STAT signaling pathway</text>
<line x1="142.6" y1="417.73" x2="143.8" y2="417.73" stroke="#666" stroke-width="0.5"/>
<rect x="144.20" y="424.60" width="65.90" height="13.90" fill="#9bcb98"/>
<text x="142.6" y="436.34" font-size="8.2" fill="#1a1a1a" text-anchor="end" stroke="#1a1a1a" stroke-width="0.18">Regulation of actin cytoskeleton</text>
<line x1="142.6" y1="433.14" x2="143.8" y2="433.14" stroke="#666" stroke-width="0.5"/>
<rect x="144.20" y="440.08" width="65.80" height="13.90" fill="#0a9ad0"/>
<text x="142.6" y="451.75" font-size="8.2" fill="#1a1a1a" text-anchor="end" stroke="#1a1a1a" stroke-width="0.18">DNA replication</text>
<line x1="142.6" y1="448.55" x2="143.8" y2="448.55" stroke="#666" stroke-width="0.5"/>
<rect x="144.20" y="455.56" width="47.10" height="13.90" fill="#0a9ad0"/>
<text x="142.6" y="467.15999999999997" font-size="8.2" fill="#1a1a1a" text-anchor="end" stroke="#1a1a1a" stroke-width="0.18">Mitotic spindle assembly</text>
<line x1="142.6" y1="463.96" x2="143.8" y2="463.96" stroke="#666" stroke-width="0.5"/>
<rect x="144.20" y="471.04" width="42.20" height="13.90" fill="#0a9ad0"/>
<text x="142.6" y="482.57" font-size="8.2" fill="#1a1a1a" text-anchor="end" stroke="#1a1a1a" stroke-width="0.18">Nucleosome organization</text>
<line x1="142.6" y1="479.37" x2="143.8" y2="479.37" stroke="#666" stroke-width="0.5"/>
<rect x="144.20" y="486.52" width="37.30" height="13.90" fill="#0a9ad0"/>
<text x="142.6" y="497.98" font-size="8.2" fill="#1a1a1a" text-anchor="end" stroke="#1a1a1a" stroke-width="0.18">Regulation of T cell proliferation</text>
<line x1="142.6" y1="494.78000000000003" x2="143.8" y2="494.78000000000003" stroke="#666" stroke-width="0.5"/>
<rect x="144.20" y="502.00" width="37.30" height="13.90" fill="#0a9ad0"/>
<text x="142.6" y="513.39" font-size="8.2" fill="#1a1a1a" text-anchor="end" stroke="#1a1a1a" stroke-width="0.18">Chromatin assembly</text>
<line x1="142.6" y1="510.19" x2="143.8" y2="510.19" stroke="#666" stroke-width="0.5"/>
<rect x="144.20" y="517.48" width="32.40" height="13.90" fill="#0a9ad0"/>
<text x="142.6" y="528.8" font-size="8.2" fill="#1a1a1a" text-anchor="end" stroke="#1a1a1a" stroke-width="0.18">Regulation of cytokinesis</text>
<line x1="142.6" y1="525.5999999999999" x2="143.8" y2="525.5999999999999" stroke="#666" stroke-width="0.5"/>
<rect x="144.20" y="532.96" width="32.40" height="13.90" fill="#0a9ad0"/>
<text x="142.6" y="544.21" font-size="8.2" fill="#1a1a1a" text-anchor="end" stroke="#1a1a1a" stroke-width="0.18">Actin filament-based process</text>
<line x1="142.6" y1="541.01" x2="143.8" y2="541.01" stroke="#666" stroke-width="0.5"/>
<rect x="144.20" y="548.44" width="32.40" height="13.90" fill="#0a9ad0"/>
<text x="142.6" y="559.62" font-size="8.2" fill="#1a1a1a" text-anchor="end" stroke="#1a1a1a" stroke-width="0.18">Cytoskeleton dependent cytokinesis</text>
<line x1="142.6" y1="556.42" x2="143.8" y2="556.42" stroke="#666" stroke-width="0.5"/>
<rect x="144.20" y="563.92" width="23.00" height="13.90" fill="#0a9ad0"/>
<text x="142.6" y="575.03" font-size="8.2" fill="#1a1a1a" text-anchor="end" stroke="#1a1a1a" stroke-width="0.18">Lymphocyte proliferation</text>
<line x1="142.6" y1="571.8299999999999" x2="143.8" y2="571.8299999999999" stroke="#666" stroke-width="0.5"/>
<rect x="144.20" y="579.40" width="18.50" height="13.90" fill="#0a9ad0"/>
<text x="142.6" y="590.44" font-size="8.2" fill="#1a1a1a" text-anchor="end" stroke="#1a1a1a" stroke-width="0.18">Regulation of cell division</text>
<line x1="142.6" y1="587.24" x2="143.8" y2="587.24" stroke="#666" stroke-width="0.5"/>
<line x1="143.6" y1="267.8" x2="143.6" y2="596.0" stroke="#666" stroke-width="0.8"/>
<line x1="143.6" y1="595.5" x2="392.4" y2="595.5" stroke="#333" stroke-width="0.8"/>
<line x1="144.2" y1="595.5" x2="144.2" y2="597.0" stroke="#555" stroke-width="0.5"/>
<text x="144.2" y="602.3" font-size="5.5" fill="#444" text-anchor="middle">0</text>
<line x1="191.07999999999998" y1="595.5" x2="191.07999999999998" y2="597.0" stroke="#555" stroke-width="0.5"/>
<text x="191.07999999999998" y="602.3" font-size="5.5" fill="#444" text-anchor="middle">10</text>
<line x1="237.95999999999998" y1="595.5" x2="237.95999999999998" y2="597.0" stroke="#555" stroke-width="0.5"/>
<text x="237.95999999999998" y="602.3" font-size="5.5" fill="#444" text-anchor="middle">20</text>
<line x1="284.84000000000003" y1="595.5" x2="284.84000000000003" y2="597.0" stroke="#555" stroke-width="0.5"/>
<text x="284.84000000000003" y="602.3" font-size="5.5" fill="#444" text-anchor="middle">30</text>
<line x1="331.72" y1="595.5" x2="331.72" y2="597.0" stroke="#555" stroke-width="0.5"/>
<text x="331.72" y="602.3" font-size="5.5" fill="#444" text-anchor="middle">40</text>
<line x1="378.6" y1="595.5" x2="378.6" y2="597.0" stroke="#555" stroke-width="0.5"/>
<text x="378.6" y="602.3" font-size="5.5" fill="#444" text-anchor="middle">50</text>
<text x="267.6" y="614.4" font-size="11.7" font-weight="bold" fill="#111" text-anchor="middle">nr of DE genes in pathway</text>
<text x="19.8" y="446.0" font-size="11.8" font-weight="bold" fill="#111" text-anchor="middle" transform="rotate(-90 19.8 446.0)">Enriched Pathways</text>
<text x="239.4" y="521.5" font-size="11.7" font-weight="bold" fill="#111" text-anchor="start">Pathways Database</text>
<rect x="259.20" y="529.20" width="7.80" height="7.30" fill="#0a9ad0"/>
<rect x="259.20" y="543.00" width="7.80" height="7.30" fill="#9bcb98"/>
<rect x="259.20" y="556.60" width="7.80" height="7.30" fill="#e5464a"/>
<text x="269.4" y="536.9" font-size="10.2" fill="#111" text-anchor="start">Reactome</text>
<text x="269.4" y="550.6" font-size="10.2" fill="#111" text-anchor="start">KEGG</text>
<text x="269.4" y="564.2" font-size="10.2" fill="#111" text-anchor="start">GO-Biological</text>
<text x="269.4" y="577.6" font-size="10.2" fill="#111" text-anchor="start">Processes</text>
<rect x="471.40" y="266.90" width="35.00" height="12.90" fill="#0b4a22" shape-rendering="crispEdges"/>
<text x="509.8" y="276.4" font-size="9.0" fill="#d42030" text-anchor="start" stroke="#d42030" stroke-width="0.15">RHOA</text>
<rect x="471.40" y="279.50" width="35.00" height="12.90" fill="#0b4a22" shape-rendering="crispEdges"/>
<text x="509.8" y="289.09" font-size="9.0" fill="#d42030" text-anchor="start" stroke="#d42030" stroke-width="0.15">KIF20A</text>
<rect x="471.40" y="292.09" width="35.00" height="12.90" fill="#0a5427" shape-rendering="crispEdges"/>
<text x="509.8" y="301.78" font-size="9.0" fill="#1e1e1e" text-anchor="start" stroke="#1e1e1e" stroke-width="0.15">E2F7</text>
<rect x="471.40" y="304.69" width="35.00" height="12.90" fill="#0a5427" shape-rendering="crispEdges"/>
<text x="509.8" y="314.46999999999997" font-size="9.0" fill="#1e1e1e" text-anchor="start" stroke="#1e1e1e" stroke-width="0.15">H2AFZ</text>
<rect x="471.40" y="317.29" width="35.00" height="12.90" fill="#0a5427" shape-rendering="crispEdges"/>
<text x="509.8" y="327.15999999999997" font-size="9.0" fill="#1e1e1e" text-anchor="start" stroke="#1e1e1e" stroke-width="0.15">MIK67</text>
<rect x="471.40" y="329.88" width="35.00" height="12.90" fill="#0d6a2e" shape-rendering="crispEdges"/>
<text x="509.8" y="339.84999999999997" font-size="9.0" fill="#d42030" text-anchor="start" stroke="#d42030" stroke-width="0.15">KLHL21</text>
<rect x="471.40" y="342.48" width="35.00" height="12.90" fill="#0a5e28" shape-rendering="crispEdges"/>
<text x="509.8" y="352.53999999999996" font-size="9.0" fill="#d42030" text-anchor="start" stroke="#d42030" stroke-width="0.15">PITPNM1</text>
<rect x="471.40" y="355.07" width="35.00" height="12.90" fill="#0c6a2c" shape-rendering="crispEdges"/>
<text x="509.8" y="365.22999999999996" font-size="9.0" fill="#1e1e1e" text-anchor="start" stroke="#1e1e1e" stroke-width="0.15">BIRC5</text>
<rect x="471.40" y="367.67" width="35.00" height="12.90" fill="#0e6e2e" shape-rendering="crispEdges"/>
<text x="509.8" y="377.91999999999996" font-size="9.0" fill="#1e1e1e" text-anchor="start" stroke="#1e1e1e" stroke-width="0.15">HIST2H2AC</text>
<rect x="471.40" y="380.27" width="35.00" height="12.90" fill="#0f722f" shape-rendering="crispEdges"/>
<text x="509.8" y="390.60999999999996" font-size="9.0" fill="#d42030" text-anchor="start" stroke="#d42030" stroke-width="0.15">CDC42SE2</text>
<rect x="471.40" y="392.86" width="35.00" height="12.90" fill="#137530" shape-rendering="crispEdges"/>
<text x="509.8" y="403.29999999999995" font-size="9.0" fill="#1e1e1e" text-anchor="start" stroke="#1e1e1e" stroke-width="0.15">HIST1H2BB</text>
<rect x="471.40" y="405.46" width="35.00" height="12.90" fill="#167832" shape-rendering="crispEdges"/>
<text x="509.8" y="415.99" font-size="9.0" fill="#1e1e1e" text-anchor="start" stroke="#1e1e1e" stroke-width="0.15">H2AFX</text>
<rect x="471.40" y="418.06" width="35.00" height="12.90" fill="#c8e4c0" shape-rendering="crispEdges"/>
<text x="509.8" y="428.67999999999995" font-size="9.0" fill="#d42030" text-anchor="start" stroke="#d42030" stroke-width="0.15">ECT2</text>
<rect x="471.40" y="430.65" width="35.00" height="12.90" fill="#8cc488" shape-rendering="crispEdges"/>
<text x="509.8" y="441.37" font-size="9.0" fill="#1e1e1e" text-anchor="start" stroke="#1e1e1e" stroke-width="0.15">SEPT2</text>
<rect x="471.40" y="443.25" width="35.00" height="12.90" fill="#6cb86c" shape-rendering="crispEdges"/>
<text x="509.8" y="454.05999999999995" font-size="9.0" fill="#1e1e1e" text-anchor="start" stroke="#1e1e1e" stroke-width="0.15">CDC6</text>
<rect x="471.40" y="455.85" width="35.00" height="12.90" fill="#6ab86a" shape-rendering="crispEdges"/>
<text x="509.8" y="466.75" font-size="9.0" fill="#1e1e1e" text-anchor="start" stroke="#1e1e1e" stroke-width="0.15">MYH9</text>
<rect x="471.40" y="468.44" width="35.00" height="12.90" fill="#52ae5a" shape-rendering="crispEdges"/>
<text x="509.8" y="479.43999999999994" font-size="9.0" fill="#1e1e1e" text-anchor="start" stroke="#1e1e1e" stroke-width="0.15">CCNB1</text>
<rect x="471.40" y="481.04" width="35.00" height="12.90" fill="#4aa85a" shape-rendering="crispEdges"/>
<text x="509.8" y="492.13" font-size="9.0" fill="#1e1e1e" text-anchor="start" stroke="#1e1e1e" stroke-width="0.15">HIST1H2BM</text>
<rect x="471.40" y="493.64" width="35.00" height="12.90" fill="#4ca85a" shape-rendering="crispEdges"/>
<text x="509.8" y="504.81999999999994" font-size="9.0" fill="#1e1e1e" text-anchor="start" stroke="#1e1e1e" stroke-width="0.15">HIST1H2AC</text>
<rect x="471.40" y="506.23" width="35.00" height="12.90" fill="#238c42" shape-rendering="crispEdges"/>
<text x="509.8" y="517.51" font-size="9.0" fill="#d42030" text-anchor="start" stroke="#d42030" stroke-width="0.15">PLK1</text>
<rect x="471.40" y="518.83" width="35.00" height="12.90" fill="#2a9048" shape-rendering="crispEdges"/>
<text x="509.8" y="530.1999999999999" font-size="9.0" fill="#1e1e1e" text-anchor="start" stroke="#1e1e1e" stroke-width="0.15">UHRF1</text>
<rect x="471.40" y="531.42" width="35.00" height="12.90" fill="#2c9248" shape-rendering="crispEdges"/>
<text x="509.8" y="542.89" font-size="9.0" fill="#1e1e1e" text-anchor="start" stroke="#1e1e1e" stroke-width="0.15">FSCN1</text>
<rect x="471.40" y="544.02" width="35.00" height="12.90" fill="#2e9448" shape-rendering="crispEdges"/>
<text x="509.8" y="555.5799999999999" font-size="9.0" fill="#1e1e1e" text-anchor="start" stroke="#1e1e1e" stroke-width="0.15">HIST1H2AJ</text>
<rect x="471.40" y="556.62" width="35.00" height="12.90" fill="#40a458" shape-rendering="crispEdges"/>
<text x="509.8" y="568.27" font-size="9.0" fill="#1e1e1e" text-anchor="start" stroke="#1e1e1e" stroke-width="0.15">CENPF</text>
<rect x="471.40" y="569.21" width="35.00" height="12.90" fill="#38a052" shape-rendering="crispEdges"/>
<text x="509.8" y="580.96" font-size="9.0" fill="#1e1e1e" text-anchor="start" stroke="#1e1e1e" stroke-width="0.15">HIST1H2BK</text>
<rect x="471.40" y="581.81" width="35.00" height="12.90" fill="#36a050" shape-rendering="crispEdges"/>
<text x="509.8" y="593.65" font-size="9.0" fill="#1e1e1e" text-anchor="start" stroke="#1e1e1e" stroke-width="0.15">SEPT5</text>
<rect x="471.40" y="594.41" width="35.00" height="12.90" fill="#36a050" shape-rendering="crispEdges"/>
<text x="509.8" y="606.3399999999999" font-size="9.0" fill="#1e1e1e" text-anchor="start" stroke="#1e1e1e" stroke-width="0.15">CEP55</text>
<rect x="471.40" y="607.00" width="35.00" height="12.90" fill="#38a052" shape-rendering="crispEdges"/>
<text x="509.8" y="619.03" font-size="9.0" fill="#1e1e1e" text-anchor="start" stroke="#1e1e1e" stroke-width="0.15">TAOK1</text>
<rect x="552.20" y="267.30" width="3.80" height="56.50" fill="url(#escale)"/>
<text x="556.8" y="269.7" font-size="3.6" fill="#333" text-anchor="start">-0.1</text>
<text x="556.8" y="278.9" font-size="3.6" fill="#333" text-anchor="start">-0.15</text>
<text x="556.8" y="288.09999999999997" font-size="3.6" fill="#333" text-anchor="start">-0.2</text>
<text x="556.8" y="297.3" font-size="3.6" fill="#333" text-anchor="start">-0.25</text>
<text x="556.8" y="306.5" font-size="3.6" fill="#333" text-anchor="start">-0.3</text>
<text x="556.8" y="315.7" font-size="3.6" fill="#333" text-anchor="start">-0.35</text>
<text x="556.8" y="324.9" font-size="3.6" fill="#333" text-anchor="start">-0.4</text>
<path d="M471 280 H468.6 M468.6 270 V292 M468.6 291 H464.6 V371.7 H468 M468 335 V410 M464.6 331.4 H450.6 V454.3 H457.6 M457.6 425.6 V482.6 H462.6 M457.6 425.6 H471 M462.6 447.8 V517.2 H465.4 M462.6 447.8 H467.2 M467.2 438.5 V457 M465.4 484.8 V538.5 M468.6 475.5 V499.6 M468.6 513.5 V546 M468.6 557 V614.4" stroke="#888" stroke-width="0.6" fill="none"/>
<path d="M469.5 268 V300 M469.8 305 V400 M469.5 440 V470 M469.8 480 V540 M469.5 550 V618" stroke="#bbb" stroke-width="0.5" fill="none"/>
<svg x="223.0" y="701.0" width="105.1" height="93.5" viewBox="0 0 105.1 93.5" overflow="hidden">
<rect width="105.1" height="93.5" fill="#1c0814"/>
<ellipse cx="50" cy="45" rx="60" ry="50" fill="url(#rg1)"/><ellipse cx="18" cy="4" rx="30" ry="10" fill="url(#rg2)"/><ellipse cx="22" cy="21" rx="28" ry="17" fill="url(#rg3)"/><ellipse cx="104" cy="8" rx="13" ry="18" fill="url(#rg4)"/><ellipse cx="71" cy="46" rx="19" ry="23" fill="url(#rg5)" transform="rotate(-20 71 46)"/><ellipse cx="45" cy="66" rx="24" ry="16" fill="url(#rg6)"/><ellipse cx="5" cy="66" rx="16" ry="26" fill="url(#rg7)"/><ellipse cx="10" cy="76" rx="9" ry="12" fill="url(#rg8)"/><ellipse cx="47" cy="98" rx="22" ry="9" fill="url(#rg9)"/><ellipse cx="93" cy="82" rx="18" ry="18" fill="url(#rg10)"/><ellipse cx="103" cy="46" rx="7" ry="20" fill="url(#rg11)"/><path d="M77 88 Q83 80 90 73" stroke="#4a6ae0" stroke-width="3.5" fill="none" stroke-linecap="round" stroke-linejoin="round" filter="url(#b1)"/><ellipse cx="70" cy="45" rx="14" ry="17" fill="url(#rdots)" opacity="0.45" filter="url(#b05)" transform="rotate(-20 70 45)"/><ellipse cx="45" cy="66" rx="18" ry="11" fill="url(#rdots)" opacity="0.4" filter="url(#b05)"/><ellipse cx="20" cy="20" rx="20" ry="11" fill="url(#rdots)" opacity="0.2" filter="url(#b05)"/><ellipse cx="56" cy="54" rx="3.5" ry="3" fill="url(#rg12)"/>
<path d="M47.5 40.0 L51.3 49.0 M47.8 47.0 L51.3 49.0 L52.3 45.1" stroke="#fff" stroke-width="1.25" fill="none" stroke-linecap="round" stroke-linejoin="round"/>
<rect x="0" y="4.9" width="52.3" height="2.1" fill="#fff"/>
</svg>
<svg x="331.9" y="701.0" width="105.1" height="93.5" viewBox="0 0 105.1 93.5" overflow="hidden">
<rect width="105.1" height="93.5" fill="#071207"/>
<ellipse cx="62" cy="44" rx="52" ry="50" fill="url(#rg13)"/><ellipse cx="70" cy="38" rx="30" ry="30" fill="url(#rg14)"/><path d="M41 18 Q36 28 37 37" stroke="#1a5e24" stroke-width="1" fill="none" stroke-linecap="round" stroke-linejoin="round" filter="url(#b1)"/><path d="M40 41 Q50 50 58 58 L69 68" stroke="#2a9a38" stroke-width="2.2" fill="none" stroke-linecap="round" stroke-linejoin="round" filter="url(#b1)"/><path d="M17 43 Q10 51 14 64 Q18 77 31 86 L51 87" stroke="#1a5e24" stroke-width="1" fill="none" stroke-linecap="round" stroke-linejoin="round" filter="url(#b1)"/><path d="M46 17 Q64 15 86 20 Q96 34 96 50 Q92 64 80 72 L69 69" stroke="#1a5e24" stroke-width="1" fill="none" stroke-linecap="round" stroke-linejoin="round" filter="url(#b1)"/><path d="M39 1 L45 10" stroke="#1a6a26" stroke-width="1.5" fill="none" stroke-linecap="round" stroke-linejoin="round" filter="url(#b1)"/><ellipse cx="85" cy="7" rx="4" ry="11" fill="url(#rg15)"/><ellipse cx="93" cy="22" rx="5" ry="5" fill="url(#rg16)"/><ellipse cx="70" cy="86" rx="6" ry="6" fill="url(#rg17)"/><ellipse cx="97" cy="66" rx="8" ry="9" fill="url(#rg18)"/><ellipse cx="22" cy="47" rx="6" ry="4" fill="url(#rg19)"/><ellipse cx="44" cy="86" rx="15" ry="3" fill="url(#rg20)"/>
<path d="M46.7 70.5 L50.6 61.3 M51.6 65.2 L50.6 61.3 L47.1 63.3" stroke="#fff" stroke-width="1.25" fill="none" stroke-linecap="round" stroke-linejoin="round"/>
</svg>
<svg x="441.2" y="701.0" width="105.2" height="93.5" viewBox="0 0 105.2 93.5" overflow="hidden">
<rect width="105.2" height="93.5" fill="#1c0814"/>
<ellipse cx="50" cy="45" rx="60" ry="50" fill="url(#rg1)"/><ellipse cx="18" cy="4" rx="30" ry="10" fill="url(#rg2)"/><ellipse cx="22" cy="21" rx="28" ry="17" fill="url(#rg3)"/><ellipse cx="104" cy="8" rx="13" ry="18" fill="url(#rg4)"/><ellipse cx="71" cy="46" rx="19" ry="23" fill="url(#rg5)" transform="rotate(-20 71 46)"/><ellipse cx="45" cy="66" rx="24" ry="16" fill="url(#rg6)"/><ellipse cx="5" cy="66" rx="16" ry="26" fill="url(#rg7)"/><ellipse cx="10" cy="76" rx="9" ry="12" fill="url(#rg8)"/><ellipse cx="47" cy="98" rx="22" ry="9" fill="url(#rg9)"/><ellipse cx="93" cy="82" rx="18" ry="18" fill="url(#rg10)"/><ellipse cx="103" cy="46" rx="7" ry="20" fill="url(#rg11)"/><path d="M77 88 Q83 80 90 73" stroke="#4a6ae0" stroke-width="3.5" fill="none" stroke-linecap="round" stroke-linejoin="round" filter="url(#b1)"/><ellipse cx="70" cy="45" rx="14" ry="17" fill="url(#rdots)" opacity="0.45" filter="url(#b05)" transform="rotate(-20 70 45)"/><ellipse cx="45" cy="66" rx="18" ry="11" fill="url(#rdots)" opacity="0.4" filter="url(#b05)"/><ellipse cx="20" cy="20" rx="20" ry="11" fill="url(#rdots)" opacity="0.2" filter="url(#b05)"/><ellipse cx="56" cy="54" rx="3.5" ry="3" fill="url(#rg12)"/>
<rect width="105.2" height="93.5" fill="#071407" style="mix-blend-mode:screen"/>
<g style="mix-blend-mode:screen"><ellipse cx="62" cy="44" rx="52" ry="50" fill="url(#rg13)"/><ellipse cx="70" cy="38" rx="30" ry="30" fill="url(#rg14)"/><path d="M41 18 Q36 28 37 37" stroke="#1a5e24" stroke-width="1" fill="none" stroke-linecap="round" stroke-linejoin="round" filter="url(#b1)"/><path d="M40 41 Q50 50 58 58 L69 68" stroke="#2a9a38" stroke-width="2.2" fill="none" stroke-linecap="round" stroke-linejoin="round" filter="url(#b1)"/><path d="M17 43 Q10 51 14 64 Q18 77 31 86 L51 87" stroke="#1a5e24" stroke-width="1" fill="none" stroke-linecap="round" stroke-linejoin="round" filter="url(#b1)"/><path d="M46 17 Q64 15 86 20 Q96 34 96 50 Q92 64 80 72 L69 69" stroke="#1a5e24" stroke-width="1" fill="none" stroke-linecap="round" stroke-linejoin="round" filter="url(#b1)"/><path d="M39 1 L45 10" stroke="#1a6a26" stroke-width="1.5" fill="none" stroke-linecap="round" stroke-linejoin="round" filter="url(#b1)"/><ellipse cx="85" cy="7" rx="4" ry="11" fill="url(#rg15)"/><ellipse cx="93" cy="22" rx="5" ry="5" fill="url(#rg16)"/><ellipse cx="70" cy="86" rx="6" ry="6" fill="url(#rg17)"/><ellipse cx="97" cy="66" rx="8" ry="9" fill="url(#rg18)"/><ellipse cx="22" cy="47" rx="6" ry="4" fill="url(#rg19)"/><ellipse cx="44" cy="86" rx="15" ry="3" fill="url(#rg20)"/></g>
<g style="mix-blend-mode:screen" opacity="0.5"><path d="M41 18 Q36 28 37 37" stroke="#1a5e24" stroke-width="1" fill="none" stroke-linecap="round" stroke-linejoin="round" filter="url(#b1)"/><path d="M40 41 Q50 50 58 58 L69 68" stroke="#2a9a38" stroke-width="2.2" fill="none" stroke-linecap="round" stroke-linejoin="round" filter="url(#b1)"/><path d="M17 43 Q10 51 14 64 Q18 77 31 86 L51 87" stroke="#1a5e24" stroke-width="1" fill="none" stroke-linecap="round" stroke-linejoin="round" filter="url(#b1)"/><path d="M46 17 Q64 15 86 20 Q96 34 96 50 Q92 64 80 72 L69 69" stroke="#1a5e24" stroke-width="1" fill="none" stroke-linecap="round" stroke-linejoin="round" filter="url(#b1)"/><path d="M39 1 L45 10" stroke="#1a6a26" stroke-width="1.5" fill="none" stroke-linecap="round" stroke-linejoin="round" filter="url(#b1)"/></g>
</svg>
<svg x="223.0" y="798.5" width="105.1" height="93.0" viewBox="0 0 105.1 93.0" overflow="hidden">
<rect width="105.1" height="93.0" fill="#12040e"/>
<ellipse cx="50" cy="45" rx="40" ry="35" fill="url(#rg21)"/><path d="M28 12 Q38 8 46 13 Q50 22 46 32 Q49 40 46 52 Q42 62 30 64 Q18 62 16 50 Q17 40 26 34 Q24 22 28 12 Z" fill="#363ea0" filter="url(#b2)"/><path d="M60 28 Q70 24 80 28 Q84 38 80 47 Q87 56 85 66 Q80 76 68 76 Q56 74 54 64 Q54 54 60 48 Q56 38 60 28 Z" fill="#3842a6" filter="url(#b2)"/><ellipse cx="12" cy="83" rx="23" ry="19" fill="url(#rg22)"/><ellipse cx="85" cy="1" rx="24" ry="11" fill="url(#rg23)"/><ellipse cx="96" cy="91" rx="17" ry="15" fill="url(#rg24)"/><ellipse cx="50" cy="45" rx="10" ry="16" fill="url(#rdots)" opacity="0.5" filter="url(#b05)"/><ellipse cx="34" cy="38" rx="12" ry="20" fill="url(#rdots)" opacity="0.45" filter="url(#b05)"/><ellipse cx="70" cy="52" rx="12" ry="20" fill="url(#rdots)" opacity="0.45" filter="url(#b05)"/>
<path d="M59.8 27.6 L56.0 36.8 M55.0 32.9 L56.0 36.8 L59.4 34.8" stroke="#fff" stroke-width="1.25" fill="none" stroke-linecap="round" stroke-linejoin="round"/>
</svg>
<svg x="331.9" y="798.5" width="105.1" height="93.0" viewBox="0 0 105.1 93.0" overflow="hidden">
<rect width="105.1" height="93.0" fill="#091409"/>
<ellipse cx="55" cy="45" rx="55" ry="48" fill="url(#rg25)"/><path d="M51 9 Q64 4 77 12 Q88 14 95 15 Q101 25 100 38" stroke="#2a9a38" stroke-width="1.5" fill="none" stroke-linecap="round" stroke-linejoin="round" filter="url(#b1)"/><path d="M3 9 Q18 3 40 5 Q55 14 60 31 Q57 49 46 61" stroke="#1a6424" stroke-width="1" fill="none" stroke-linecap="round" stroke-linejoin="round" filter="url(#b1)"/><path d="M61 25 Q80 20 95 25 Q101 46 98 69 Q86 80 70 78 Q60 70 58 55" stroke="#1a6424" stroke-width="1" fill="none" stroke-linecap="round" stroke-linejoin="round" filter="url(#b1)"/><path d="M0 58 Q18 61 35 72 L40 88" stroke="#1a6424" stroke-width="1" fill="none" stroke-linecap="round" stroke-linejoin="round" filter="url(#b1)"/><path d="M40 88 Q55 82 70 78" stroke="#16521e" stroke-width="0.9" fill="none" stroke-linecap="round" stroke-linejoin="round" filter="url(#b1)"/><ellipse cx="97" cy="18" rx="4" ry="7" fill="url(#rg26)"/>
<path d="M80.5 55.2 L68.2 51.3 M72.0 50.0 L68.2 51.3 L70.5 54.6" stroke="#fff" stroke-width="1.25" fill="none" stroke-linecap="round" stroke-linejoin="round"/>
</svg>
<svg x="441.2" y="798.5" width="105.2" height="93.0" viewBox="0 0 105.2 93.0" overflow="hidden">
<rect width="105.2" height="93.0" fill="#12040e"/>
<ellipse cx="50" cy="45" rx="40" ry="35" fill="url(#rg21)"/><path d="M28 12 Q38 8 46 13 Q50 22 46 32 Q49 40 46 52 Q42 62 30 64 Q18 62 16 50 Q17 40 26 34 Q24 22 28 12 Z" fill="#363ea0" filter="url(#b2)"/><path d="M60 28 Q70 24 80 28 Q84 38 80 47 Q87 56 85 66 Q80 76 68 76 Q56 74 54 64 Q54 54 60 48 Q56 38 60 28 Z" fill="#3842a6" filter="url(#b2)"/><ellipse cx="12" cy="83" rx="23" ry="19" fill="url(#rg22)"/><ellipse cx="85" cy="1" rx="24" ry="11" fill="url(#rg23)"/><ellipse cx="96" cy="91" rx="17" ry="15" fill="url(#rg24)"/><ellipse cx="50" cy="45" rx="10" ry="16" fill="url(#rdots)" opacity="0.5" filter="url(#b05)"/><ellipse cx="34" cy="38" rx="12" ry="20" fill="url(#rdots)" opacity="0.45" filter="url(#b05)"/><ellipse cx="70" cy="52" rx="12" ry="20" fill="url(#rdots)" opacity="0.45" filter="url(#b05)"/>
<rect width="105.2" height="93.0" fill="#071407" style="mix-blend-mode:screen"/>
<g style="mix-blend-mode:screen"><ellipse cx="55" cy="45" rx="55" ry="48" fill="url(#rg25)"/><path d="M51 9 Q64 4 77 12 Q88 14 95 15 Q101 25 100 38" stroke="#2a9a38" stroke-width="1.5" fill="none" stroke-linecap="round" stroke-linejoin="round" filter="url(#b1)"/><path d="M3 9 Q18 3 40 5 Q55 14 60 31 Q57 49 46 61" stroke="#1a6424" stroke-width="1" fill="none" stroke-linecap="round" stroke-linejoin="round" filter="url(#b1)"/><path d="M61 25 Q80 20 95 25 Q101 46 98 69 Q86 80 70 78 Q60 70 58 55" stroke="#1a6424" stroke-width="1" fill="none" stroke-linecap="round" stroke-linejoin="round" filter="url(#b1)"/><path d="M0 58 Q18 61 35 72 L40 88" stroke="#1a6424" stroke-width="1" fill="none" stroke-linecap="round" stroke-linejoin="round" filter="url(#b1)"/><path d="M40 88 Q55 82 70 78" stroke="#16521e" stroke-width="0.9" fill="none" stroke-linecap="round" stroke-linejoin="round" filter="url(#b1)"/><ellipse cx="97" cy="18" rx="4" ry="7" fill="url(#rg26)"/></g>
<g style="mix-blend-mode:screen" opacity="0.5"><path d="M51 9 Q64 4 77 12 Q88 14 95 15 Q101 25 100 38" stroke="#2a9a38" stroke-width="1.5" fill="none" stroke-linecap="round" stroke-linejoin="round" filter="url(#b1)"/><path d="M3 9 Q18 3 40 5 Q55 14 60 31 Q57 49 46 61" stroke="#1a6424" stroke-width="1" fill="none" stroke-linecap="round" stroke-linejoin="round" filter="url(#b1)"/><path d="M61 25 Q80 20 95 25 Q101 46 98 69 Q86 80 70 78 Q60 70 58 55" stroke="#1a6424" stroke-width="1" fill="none" stroke-linecap="round" stroke-linejoin="round" filter="url(#b1)"/><path d="M0 58 Q18 61 35 72 L40 88" stroke="#1a6424" stroke-width="1" fill="none" stroke-linecap="round" stroke-linejoin="round" filter="url(#b1)"/><path d="M40 88 Q55 82 70 78" stroke="#16521e" stroke-width="0.9" fill="none" stroke-linecap="round" stroke-linejoin="round" filter="url(#b1)"/></g>
</svg>
<svg x="223.0" y="898.0" width="105.1" height="93.0" viewBox="0 0 105.1 93.0" overflow="hidden">
<rect width="105.1" height="93.0" fill="#07030c"/>
<ellipse cx="69" cy="10" rx="19" ry="16" fill="url(#rg27)"/><ellipse cx="32" cy="44" rx="15" ry="18" fill="url(#rg28)"/><ellipse cx="69" cy="45" rx="15" ry="16" fill="url(#rg29)"/><ellipse cx="2" cy="25" rx="11" ry="14" fill="url(#rg30)"/><ellipse cx="106" cy="40" rx="7" ry="13" fill="url(#rg31)"/><ellipse cx="2" cy="80" rx="11" ry="17" fill="url(#rg32)"/><ellipse cx="78" cy="89" rx="22" ry="15" fill="url(#rg33)"/><ellipse cx="49" cy="48" rx="9" ry="11" fill="url(#rg34)"/><ellipse cx="49" cy="48" rx="8" ry="10" fill="url(#rdots)" opacity="0.22" filter="url(#b05)"/><ellipse cx="49" cy="48" rx="1.8" ry="2.8" fill="url(#rg35)"/>
<path d="M55.2 27.6 L51.3 36.8 M50.3 32.9 L51.3 36.8 L54.8 34.8" stroke="#fff" stroke-width="1.25" fill="none" stroke-linecap="round" stroke-linejoin="round"/>
<rect x="0" y="5.8" width="51.3" height="2.0" fill="#fff"/>
</svg>
<svg x="331.9" y="898.0" width="105.1" height="93.0" viewBox="0 0 105.1 93.0" overflow="hidden">
<rect width="105.1" height="93.0" fill="#091409"/>
<ellipse cx="55" cy="45" rx="55" ry="48" fill="url(#rg36)"/><ellipse cx="33.7" cy="44.5" rx="23" ry="23" fill="url(#rg37)"/><ellipse cx="74" cy="46" rx="19" ry="23" fill="url(#rg38)"/><circle cx="33.7" cy="44.5" r="21.5" stroke="#175a22" stroke-width="1.3" fill="none" filter="url(#b1)"/><path d="M54.5 29 L55 58" stroke="#2a9a38" stroke-width="2.2" fill="none" stroke-linecap="round" stroke-linejoin="round" filter="url(#b1)"/><path d="M57 26 Q75 24 89 25 Q92 46 90 61" stroke="#1a6a26" stroke-width="1.1" fill="none" stroke-linecap="round" stroke-linejoin="round" filter="url(#b1)"/><path d="M56 66 Q75 74 89 66" stroke="#24883a" stroke-width="1.8" fill="none" stroke-linecap="round" stroke-linejoin="round" filter="url(#b1)"/><path d="M0 31 Q10 30 18 31" stroke="#16521e" stroke-width="0.9" fill="none" stroke-linecap="round" stroke-linejoin="round" filter="url(#b1)"/><path d="M10 60 Q20 70 25 92" stroke="#16521e" stroke-width="0.9" fill="none" stroke-linecap="round" stroke-linejoin="round" filter="url(#b1)"/>
<path d="M73.6 49.8 L62.0 45.7 M65.8 44.5 L62.0 45.7 L64.2 49.0" stroke="#fff" stroke-width="1.25" fill="none" stroke-linecap="round" stroke-linejoin="round"/>
</svg>
<svg x="441.2" y="898.0" width="105.2" height="93.0" viewBox="0 0 105.2 93.0" overflow="hidden">
<rect width="105.2" height="93.0" fill="#07030c"/>
<ellipse cx="69" cy="10" rx="19" ry="16" fill="url(#rg27)"/><ellipse cx="32" cy="44" rx="15" ry="18" fill="url(#rg28)"/><ellipse cx="69" cy="45" rx="15" ry="16" fill="url(#rg29)"/><ellipse cx="2" cy="25" rx="11" ry="14" fill="url(#rg30)"/><ellipse cx="106" cy="40" rx="7" ry="13" fill="url(#rg31)"/><ellipse cx="2" cy="80" rx="11" ry="17" fill="url(#rg32)"/><ellipse cx="78" cy="89" rx="22" ry="15" fill="url(#rg33)"/><ellipse cx="49" cy="48" rx="9" ry="11" fill="url(#rg34)"/><ellipse cx="49" cy="48" rx="8" ry="10" fill="url(#rdots)" opacity="0.22" filter="url(#b05)"/><ellipse cx="49" cy="48" rx="1.8" ry="2.8" fill="url(#rg35)"/>
<rect width="105.2" height="93.0" fill="#071407" style="mix-blend-mode:screen"/>
<g style="mix-blend-mode:screen"><ellipse cx="55" cy="45" rx="55" ry="48" fill="url(#rg36)"/><ellipse cx="33.7" cy="44.5" rx="23" ry="23" fill="url(#rg37)"/><ellipse cx="74" cy="46" rx="19" ry="23" fill="url(#rg38)"/><circle cx="33.7" cy="44.5" r="21.5" stroke="#175a22" stroke-width="1.3" fill="none" filter="url(#b1)"/><path d="M54.5 29 L55 58" stroke="#2a9a38" stroke-width="2.2" fill="none" stroke-linecap="round" stroke-linejoin="round" filter="url(#b1)"/><path d="M57 26 Q75 24 89 25 Q92 46 90 61" stroke="#1a6a26" stroke-width="1.1" fill="none" stroke-linecap="round" stroke-linejoin="round" filter="url(#b1)"/><path d="M56 66 Q75 74 89 66" stroke="#24883a" stroke-width="1.8" fill="none" stroke-linecap="round" stroke-linejoin="round" filter="url(#b1)"/><path d="M0 31 Q10 30 18 31" stroke="#16521e" stroke-width="0.9" fill="none" stroke-linecap="round" stroke-linejoin="round" filter="url(#b1)"/><path d="M10 60 Q20 70 25 92" stroke="#16521e" stroke-width="0.9" fill="none" stroke-linecap="round" stroke-linejoin="round" filter="url(#b1)"/></g>
<g style="mix-blend-mode:screen" opacity="0.5"><circle cx="33.7" cy="44.5" r="21.5" stroke="#175a22" stroke-width="1.3" fill="none" filter="url(#b1)"/><path d="M54.5 29 L55 58" stroke="#2a9a38" stroke-width="2.2" fill="none" stroke-linecap="round" stroke-linejoin="round" filter="url(#b1)"/><path d="M57 26 Q75 24 89 25 Q92 46 90 61" stroke="#1a6a26" stroke-width="1.1" fill="none" stroke-linecap="round" stroke-linejoin="round" filter="url(#b1)"/><path d="M56 66 Q75 74 89 66" stroke="#24883a" stroke-width="1.8" fill="none" stroke-linecap="round" stroke-linejoin="round" filter="url(#b1)"/><path d="M0 31 Q10 30 18 31" stroke="#16521e" stroke-width="0.9" fill="none" stroke-linecap="round" stroke-linejoin="round" filter="url(#b1)"/><path d="M10 60 Q20 70 25 92" stroke="#16521e" stroke-width="0.9" fill="none" stroke-linecap="round" stroke-linejoin="round" filter="url(#b1)"/></g>
</svg>
<svg x="223.0" y="994.7" width="105.1" height="92.9" viewBox="0 0 105.1 92.9" overflow="hidden">
<rect width="105.1" height="92.9" fill="#050207"/>
<ellipse cx="40" cy="1" rx="11" ry="7" fill="url(#rg39)"/><path d="M62 20 Q72 13 82 17 Q89 25 87 35 Q89 46 81 51 Q70 54 63 47 Q57 38 58 29 Z" fill="#2c3a8c" filter="url(#b3)"/><path d="M24 45 Q35 39 44 45 Q50 54 48 64 Q50 75 41 80 Q28 83 20 75 Q14 64 19 54 Z" fill="#2a3686" filter="url(#b3)"/><ellipse cx="59" cy="50" rx="10" ry="5" fill="url(#rg40)" transform="rotate(-30 59 50)"/><ellipse cx="59" cy="50" rx="9" ry="5" fill="url(#rdots)" opacity="0.4" filter="url(#b05)" transform="rotate(-30 59 50)"/><ellipse cx="96" cy="87" rx="13" ry="11" fill="url(#rg41)"/>
<path d="M49.0 30.6 L52.0 40.0 M48.7 37.7 L52.0 40.0 L53.3 36.2" stroke="#fff" stroke-width="1.25" fill="none" stroke-linecap="round" stroke-linejoin="round"/>
</svg>
<svg x="331.9" y="994.7" width="105.1" height="92.9" viewBox="0 0 105.1 92.9" overflow="hidden">
<rect width="105.1" height="92.9" fill="#071007"/>
<ellipse cx="68" cy="45" rx="42" ry="46" fill="url(#rg42)"/><ellipse cx="62" cy="50" rx="32" ry="34" fill="url(#rg43)"/><ellipse cx="25" cy="62" rx="25" ry="25" fill="url(#rg44)"/><ellipse cx="52" cy="19" rx="7" ry="3.5" fill="url(#rg45)"/><ellipse cx="60" cy="55" rx="7" ry="9" fill="url(#rg46)"/><ellipse cx="88" cy="86" rx="6" ry="7" fill="url(#rg47)"/><ellipse cx="5" cy="76" rx="7" ry="6" fill="url(#rg48)"/><path d="M20 40 Q40 30 55 45 Q70 60 80 70" stroke="#12421a" stroke-width="0.9" fill="none" stroke-linecap="round" stroke-linejoin="round" filter="url(#b1)"/><path d="M45 25 Q70 15 95 20" stroke="#12421a" stroke-width="0.9" fill="none" stroke-linecap="round" stroke-linejoin="round" filter="url(#b1)"/><path d="M0 60 Q20 50 30 40" stroke="#12421a" stroke-width="0.9" fill="none" stroke-linecap="round" stroke-linejoin="round" filter="url(#b1)"/>
<path d="M32.0 44.5 L44.5 40.0 M42.3 43.3 L44.5 40.0 L40.7 38.8" stroke="#fff" stroke-width="1.25" fill="none" stroke-linecap="round" stroke-linejoin="round"/>
</svg>
<svg x="441.2" y="994.7" width="105.2" height="92.9" viewBox="0 0 105.2 92.9" overflow="hidden">
<rect width="105.2" height="92.9" fill="#050207"/>
<ellipse cx="40" cy="1" rx="11" ry="7" fill="url(#rg39)"/><path d="M62 20 Q72 13 82 17 Q89 25 87 35 Q89 46 81 51 Q70 54 63 47 Q57 38 58 29 Z" fill="#2c3a8c" filter="url(#b3)"/><path d="M24 45 Q35 39 44 45 Q50 54 48 64 Q50 75 41 80 Q28 83 20 75 Q14 64 19 54 Z" fill="#2a3686" filter="url(#b3)"/><ellipse cx="59" cy="50" rx="10" ry="5" fill="url(#rg40)" transform="rotate(-30 59 50)"/><ellipse cx="59" cy="50" rx="9" ry="5" fill="url(#rdots)" opacity="0.4" filter="url(#b05)" transform="rotate(-30 59 50)"/><ellipse cx="96" cy="87" rx="13" ry="11" fill="url(#rg41)"/>
<rect width="105.2" height="92.9" fill="#071407" style="mix-blend-mode:screen"/>
<g style="mix-blend-mode:screen"><ellipse cx="68" cy="45" rx="42" ry="46" fill="url(#rg42)"/><ellipse cx="62" cy="50" rx="32" ry="34" fill="url(#rg43)"/><ellipse cx="25" cy="62" rx="25" ry="25" fill="url(#rg44)"/><ellipse cx="52" cy="19" rx="7" ry="3.5" fill="url(#rg45)"/><ellipse cx="60" cy="55" rx="7" ry="9" fill="url(#rg46)"/><ellipse cx="88" cy="86" rx="6" ry="7" fill="url(#rg47)"/><ellipse cx="5" cy="76" rx="7" ry="6" fill="url(#rg48)"/><path d="M20 40 Q40 30 55 45 Q70 60 80 70" stroke="#12421a" stroke-width="0.9" fill="none" stroke-linecap="round" stroke-linejoin="round" filter="url(#b1)"/><path d="M45 25 Q70 15 95 20" stroke="#12421a" stroke-width="0.9" fill="none" stroke-linecap="round" stroke-linejoin="round" filter="url(#b1)"/><path d="M0 60 Q20 50 30 40" stroke="#12421a" stroke-width="0.9" fill="none" stroke-linecap="round" stroke-linejoin="round" filter="url(#b1)"/></g>
<g style="mix-blend-mode:screen" opacity="0.5"><path d="M20 40 Q40 30 55 45 Q70 60 80 70" stroke="#12421a" stroke-width="0.9" fill="none" stroke-linecap="round" stroke-linejoin="round" filter="url(#b1)"/><path d="M45 25 Q70 15 95 20" stroke="#12421a" stroke-width="0.9" fill="none" stroke-linecap="round" stroke-linejoin="round" filter="url(#b1)"/><path d="M0 60 Q20 50 30 40" stroke="#12421a" stroke-width="0.9" fill="none" stroke-linecap="round" stroke-linejoin="round" filter="url(#b1)"/></g>
</svg>
<text x="201.8" y="854.2" font-size="16" font-weight="bold" transform="rotate(-90 201.8 854.2)">TLBR-2 HELLS<tspan font-size="9.6" dy="-6.0" dx="0.6">KD</tspan></text>
<text x="219.0" y="746.4" font-size="13.4" fill="#111" text-anchor="middle" transform="rotate(-90 219.0 746.4)">CTR</text>
<text x="219.0" y="845.7" font-size="13.4" fill="#111" text-anchor="middle" transform="rotate(-90 219.0 845.7)">DOX</text>
<text x="201.6" y="1047.0" font-size="16" font-weight="bold" transform="rotate(-90 201.6 1047.0)">MAC2A HELLS<tspan font-size="9.6" dy="-6.0" dx="0.6">KD</tspan></text>
<text x="219.0" y="947.2" font-size="13.4" fill="#111" text-anchor="middle" transform="rotate(-90 219.0 947.2)">CTR</text>
<text x="219.0" y="1043.0" font-size="13.4" fill="#111" text-anchor="middle" transform="rotate(-90 219.0 1043.0)">DOX</text>
<text x="223.4" y="1102.7" font-size="14.9" font-weight="bold"><tspan fill="#c8202c">β-tubulin</tspan><tspan fill="#222">/</tspan><tspan fill="#1a4a98">DAPI</tspan></text>
<text x="353.7" y="1102.9" font-size="15" font-weight="bold" fill="#4cae3c" text-anchor="start">F-actin</text>
<text x="458.9" y="1103.2" font-size="14.5" font-weight="bold" fill="#000" text-anchor="start">MERGE</text>
</svg></body></html>
